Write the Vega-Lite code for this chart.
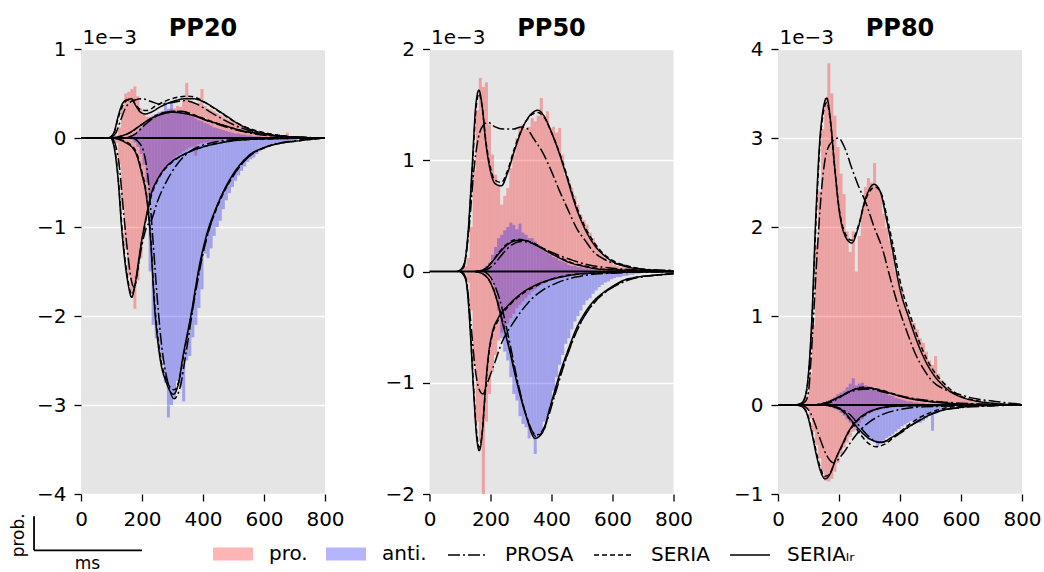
{
"$schema": "https://vega.github.io/schema/vega-lite/v6.json",
"background": "white",
"padding": {"left": 10, "top": 16, "right": 5, "bottom": 0},
"spacing": 104.5,
"bounds": "flush",
"datasets": {
"hist": [
{"p":"PP20","r":"pro.","x":110,"y":0.03},{"p":"PP20","r":"pro.","x":120,"y":0.12},{"p":"PP20","r":"pro.","x":130,"y":0.35},{"p":"PP20","r":"pro.","x":140,"y":0.5},{"p":"PP20","r":"pro.","x":150,"y":0.52},{"p":"PP20","r":"pro.","x":160,"y":0.55},{"p":"PP20","r":"pro.","x":170,"y":0.58},{"p":"PP20","r":"pro.","x":180,"y":0.47},{"p":"PP20","r":"pro.","x":190,"y":0.33},{"p":"PP20","r":"pro.","x":200,"y":0.27},{"p":"PP20","r":"pro.","x":210,"y":0.24},{"p":"PP20","r":"pro.","x":220,"y":0.24},{"p":"PP20","r":"pro.","x":230,"y":0.25},{"p":"PP20","r":"pro.","x":240,"y":0.27},{"p":"PP20","r":"pro.","x":250,"y":0.28},{"p":"PP20","r":"pro.","x":260,"y":0.3},{"p":"PP20","r":"pro.","x":270,"y":0.3},{"p":"PP20","r":"pro.","x":280,"y":0.31},{"p":"PP20","r":"pro.","x":290,"y":0.33},{"p":"PP20","r":"pro.","x":300,"y":0.33},{"p":"PP20","r":"pro.","x":310,"y":0.36},{"p":"PP20","r":"pro.","x":320,"y":0.35},{"p":"PP20","r":"pro.","x":330,"y":0.42},{"p":"PP20","r":"pro.","x":340,"y":0.62},{"p":"PP20","r":"pro.","x":350,"y":0.42},{"p":"PP20","r":"pro.","x":360,"y":0.4},{"p":"PP20","r":"pro.","x":370,"y":0.38},{"p":"PP20","r":"pro.","x":380,"y":0.4},{"p":"PP20","r":"pro.","x":390,"y":0.55},{"p":"PP20","r":"pro.","x":400,"y":0.36},{"p":"PP20","r":"pro.","x":410,"y":0.33},{"p":"PP20","r":"pro.","x":420,"y":0.32},{"p":"PP20","r":"pro.","x":430,"y":0.3},{"p":"PP20","r":"pro.","x":440,"y":0.28},{"p":"PP20","r":"pro.","x":450,"y":0.26},{"p":"PP20","r":"pro.","x":460,"y":0.24},{"p":"PP20","r":"pro.","x":470,"y":0.22},{"p":"PP20","r":"pro.","x":480,"y":0.2},{"p":"PP20","r":"pro.","x":490,"y":0.19},{"p":"PP20","r":"pro.","x":500,"y":0.17},{"p":"PP20","r":"pro.","x":510,"y":0.15},{"p":"PP20","r":"pro.","x":520,"y":0.13},{"p":"PP20","r":"pro.","x":530,"y":0.12},{"p":"PP20","r":"pro.","x":540,"y":0.11},{"p":"PP20","r":"pro.","x":550,"y":0.1},{"p":"PP20","r":"pro.","x":560,"y":0.09},{"p":"PP20","r":"pro.","x":570,"y":0.08},{"p":"PP20","r":"pro.","x":580,"y":0.07},{"p":"PP20","r":"pro.","x":590,"y":0.06},{"p":"PP20","r":"pro.","x":600,"y":0.05},{"p":"PP20","r":"pro.","x":610,"y":0.05},{"p":"PP20","r":"pro.","x":620,"y":0.04},{"p":"PP20","r":"pro.","x":630,"y":0.03},{"p":"PP20","r":"pro.","x":640,"y":0.03},{"p":"PP20","r":"pro.","x":650,"y":0.02},{"p":"PP20","r":"pro.","x":660,"y":0.03},{"p":"PP20","r":"pro.","x":670,"y":0.06},{"p":"PP20","r":"pro.","x":680,"y":0.02},{"p":"PP20","r":"pro.","x":690,"y":0.01},{"p":"PP20","r":"pro.","x":700,"y":0.01},
{"p":"PP20","r":"pro.","x":100,"y":-0.01},{"p":"PP20","r":"pro.","x":110,"y":-0.06},{"p":"PP20","r":"pro.","x":120,"y":-0.3},{"p":"PP20","r":"pro.","x":130,"y":-0.8},{"p":"PP20","r":"pro.","x":140,"y":-1.25},{"p":"PP20","r":"pro.","x":150,"y":-1.55},{"p":"PP20","r":"pro.","x":160,"y":-1.75},{"p":"PP20","r":"pro.","x":170,"y":-1.92},{"p":"PP20","r":"pro.","x":180,"y":-1.6},{"p":"PP20","r":"pro.","x":190,"y":-1.35},{"p":"PP20","r":"pro.","x":200,"y":-1.1},{"p":"PP20","r":"pro.","x":210,"y":-0.9},{"p":"PP20","r":"pro.","x":220,"y":-0.68},{"p":"PP20","r":"pro.","x":230,"y":-0.6},{"p":"PP20","r":"pro.","x":240,"y":-0.52},{"p":"PP20","r":"pro.","x":250,"y":-0.45},{"p":"PP20","r":"pro.","x":260,"y":-0.38},{"p":"PP20","r":"pro.","x":270,"y":-0.34},{"p":"PP20","r":"pro.","x":280,"y":-0.3},{"p":"PP20","r":"pro.","x":290,"y":-0.26},{"p":"PP20","r":"pro.","x":300,"y":-0.24},{"p":"PP20","r":"pro.","x":310,"y":-0.2},{"p":"PP20","r":"pro.","x":320,"y":-0.18},{"p":"PP20","r":"pro.","x":330,"y":-0.15},{"p":"PP20","r":"pro.","x":340,"y":-0.13},{"p":"PP20","r":"pro.","x":350,"y":-0.11},{"p":"PP20","r":"pro.","x":360,"y":-0.1},{"p":"PP20","r":"pro.","x":370,"y":-0.2},{"p":"PP20","r":"pro.","x":380,"y":-0.07},{"p":"PP20","r":"pro.","x":390,"y":-0.06},{"p":"PP20","r":"pro.","x":400,"y":-0.05},{"p":"PP20","r":"pro.","x":410,"y":-0.05},{"p":"PP20","r":"pro.","x":420,"y":-0.04},{"p":"PP20","r":"pro.","x":430,"y":-0.04},{"p":"PP20","r":"pro.","x":440,"y":-0.03},{"p":"PP20","r":"pro.","x":450,"y":-0.03},{"p":"PP20","r":"pro.","x":460,"y":-0.02},{"p":"PP20","r":"pro.","x":470,"y":-0.02},{"p":"PP20","r":"pro.","x":480,"y":-0.02},{"p":"PP20","r":"pro.","x":490,"y":-0.01},{"p":"PP20","r":"pro.","x":500,"y":-0.01},
{"p":"PP50","r":"pro.","x":100,"y":0.02},{"p":"PP50","r":"pro.","x":110,"y":0.05},{"p":"PP50","r":"pro.","x":120,"y":0.12},{"p":"PP50","r":"pro.","x":130,"y":0.4},{"p":"PP50","r":"pro.","x":140,"y":0.9},{"p":"PP50","r":"pro.","x":150,"y":1.45},{"p":"PP50","r":"pro.","x":160,"y":1.74},{"p":"PP50","r":"pro.","x":170,"y":1.66},{"p":"PP50","r":"pro.","x":180,"y":1.7},{"p":"PP50","r":"pro.","x":190,"y":1.32},{"p":"PP50","r":"pro.","x":200,"y":1.05},{"p":"PP50","r":"pro.","x":210,"y":0.87},{"p":"PP50","r":"pro.","x":220,"y":0.78},{"p":"PP50","r":"pro.","x":230,"y":0.6},{"p":"PP50","r":"pro.","x":240,"y":0.68},{"p":"PP50","r":"pro.","x":250,"y":0.75},{"p":"PP50","r":"pro.","x":260,"y":0.93},{"p":"PP50","r":"pro.","x":270,"y":1.05},{"p":"PP50","r":"pro.","x":280,"y":1.2},{"p":"PP50","r":"pro.","x":290,"y":1.29},{"p":"PP50","r":"pro.","x":300,"y":1.32},{"p":"PP50","r":"pro.","x":310,"y":1.28},{"p":"PP50","r":"pro.","x":320,"y":1.3},{"p":"PP50","r":"pro.","x":330,"y":1.38},{"p":"PP50","r":"pro.","x":340,"y":1.35},{"p":"PP50","r":"pro.","x":350,"y":1.4},{"p":"PP50","r":"pro.","x":360,"y":1.56},{"p":"PP50","r":"pro.","x":370,"y":1.38},{"p":"PP50","r":"pro.","x":380,"y":1.44},{"p":"PP50","r":"pro.","x":390,"y":1.29},{"p":"PP50","r":"pro.","x":400,"y":1.3},{"p":"PP50","r":"pro.","x":410,"y":1.25},{"p":"PP50","r":"pro.","x":420,"y":1.29},{"p":"PP50","r":"pro.","x":430,"y":1.05},{"p":"PP50","r":"pro.","x":440,"y":0.87},{"p":"PP50","r":"pro.","x":450,"y":0.82},{"p":"PP50","r":"pro.","x":460,"y":0.75},{"p":"PP50","r":"pro.","x":470,"y":0.68},{"p":"PP50","r":"pro.","x":480,"y":0.6},{"p":"PP50","r":"pro.","x":490,"y":0.51},{"p":"PP50","r":"pro.","x":500,"y":0.46},{"p":"PP50","r":"pro.","x":510,"y":0.42},{"p":"PP50","r":"pro.","x":520,"y":0.35},{"p":"PP50","r":"pro.","x":530,"y":0.3},{"p":"PP50","r":"pro.","x":540,"y":0.24},{"p":"PP50","r":"pro.","x":550,"y":0.2},{"p":"PP50","r":"pro.","x":560,"y":0.15},{"p":"PP50","r":"pro.","x":570,"y":0.12},{"p":"PP50","r":"pro.","x":580,"y":0.1},{"p":"PP50","r":"pro.","x":590,"y":0.08},{"p":"PP50","r":"pro.","x":600,"y":0.06},{"p":"PP50","r":"pro.","x":610,"y":0.05},{"p":"PP50","r":"pro.","x":620,"y":0.04},{"p":"PP50","r":"pro.","x":630,"y":0.04},{"p":"PP50","r":"pro.","x":640,"y":0.03},{"p":"PP50","r":"pro.","x":650,"y":0.03},{"p":"PP50","r":"pro.","x":660,"y":0.02},{"p":"PP50","r":"pro.","x":670,"y":0.02},{"p":"PP50","r":"pro.","x":680,"y":0.02},{"p":"PP50","r":"pro.","x":690,"y":0.01},{"p":"PP50","r":"pro.","x":700,"y":0.01},
{"p":"PP50","r":"pro.","x":110,"y":-0.02},{"p":"PP50","r":"pro.","x":120,"y":-0.1},{"p":"PP50","r":"pro.","x":130,"y":-0.35},{"p":"PP50","r":"pro.","x":140,"y":-0.85},{"p":"PP50","r":"pro.","x":150,"y":-1.35},{"p":"PP50","r":"pro.","x":160,"y":-1.52},{"p":"PP50","r":"pro.","x":170,"y":-2.0},{"p":"PP50","r":"pro.","x":180,"y":-1.35},{"p":"PP50","r":"pro.","x":190,"y":-1.1},{"p":"PP50","r":"pro.","x":200,"y":-0.9},{"p":"PP50","r":"pro.","x":210,"y":-0.75},{"p":"PP50","r":"pro.","x":220,"y":-0.62},{"p":"PP50","r":"pro.","x":230,"y":-0.55},{"p":"PP50","r":"pro.","x":240,"y":-0.5},{"p":"PP50","r":"pro.","x":250,"y":-0.47},{"p":"PP50","r":"pro.","x":260,"y":-0.42},{"p":"PP50","r":"pro.","x":270,"y":-0.38},{"p":"PP50","r":"pro.","x":280,"y":-0.33},{"p":"PP50","r":"pro.","x":290,"y":-0.3},{"p":"PP50","r":"pro.","x":300,"y":-0.27},{"p":"PP50","r":"pro.","x":310,"y":-0.24},{"p":"PP50","r":"pro.","x":320,"y":-0.21},{"p":"PP50","r":"pro.","x":330,"y":-0.18},{"p":"PP50","r":"pro.","x":340,"y":-0.16},{"p":"PP50","r":"pro.","x":350,"y":-0.14},{"p":"PP50","r":"pro.","x":360,"y":-0.12},{"p":"PP50","r":"pro.","x":370,"y":-0.1},{"p":"PP50","r":"pro.","x":380,"y":-0.09},{"p":"PP50","r":"pro.","x":390,"y":-0.08},{"p":"PP50","r":"pro.","x":400,"y":-0.07},{"p":"PP50","r":"pro.","x":410,"y":-0.06},{"p":"PP50","r":"pro.","x":420,"y":-0.05},{"p":"PP50","r":"pro.","x":430,"y":-0.05},{"p":"PP50","r":"pro.","x":440,"y":-0.04},{"p":"PP50","r":"pro.","x":450,"y":-0.04},{"p":"PP50","r":"pro.","x":460,"y":-0.03},{"p":"PP50","r":"pro.","x":470,"y":-0.03},{"p":"PP50","r":"pro.","x":480,"y":-0.02},{"p":"PP50","r":"pro.","x":490,"y":-0.02},{"p":"PP50","r":"pro.","x":500,"y":-0.02},{"p":"PP50","r":"pro.","x":510,"y":-0.01},{"p":"PP50","r":"pro.","x":520,"y":-0.01},
{"p":"PP80","r":"pro.","x":70,"y":0.01},{"p":"PP80","r":"pro.","x":80,"y":0.04},{"p":"PP80","r":"pro.","x":90,"y":0.1},{"p":"PP80","r":"pro.","x":100,"y":0.35},{"p":"PP80","r":"pro.","x":110,"y":0.9},{"p":"PP80","r":"pro.","x":120,"y":1.8},{"p":"PP80","r":"pro.","x":130,"y":2.4},{"p":"PP80","r":"pro.","x":140,"y":3.1},{"p":"PP80","r":"pro.","x":150,"y":3.45},{"p":"PP80","r":"pro.","x":160,"y":3.84},{"p":"PP80","r":"pro.","x":170,"y":3.5},{"p":"PP80","r":"pro.","x":180,"y":3.25},{"p":"PP80","r":"pro.","x":190,"y":2.9},{"p":"PP80","r":"pro.","x":200,"y":2.6},{"p":"PP80","r":"pro.","x":210,"y":2.37},{"p":"PP80","r":"pro.","x":220,"y":1.95},{"p":"PP80","r":"pro.","x":230,"y":1.72},{"p":"PP80","r":"pro.","x":240,"y":1.95},{"p":"PP80","r":"pro.","x":250,"y":1.5},{"p":"PP80","r":"pro.","x":260,"y":1.9},{"p":"PP80","r":"pro.","x":270,"y":2.2},{"p":"PP80","r":"pro.","x":280,"y":2.45},{"p":"PP80","r":"pro.","x":290,"y":2.55},{"p":"PP80","r":"pro.","x":300,"y":2.5},{"p":"PP80","r":"pro.","x":310,"y":2.72},{"p":"PP80","r":"pro.","x":320,"y":2.45},{"p":"PP80","r":"pro.","x":330,"y":2.4},{"p":"PP80","r":"pro.","x":340,"y":2.15},{"p":"PP80","r":"pro.","x":350,"y":2.0},{"p":"PP80","r":"pro.","x":360,"y":1.85},{"p":"PP80","r":"pro.","x":370,"y":1.7},{"p":"PP80","r":"pro.","x":380,"y":1.5},{"p":"PP80","r":"pro.","x":390,"y":1.42},{"p":"PP80","r":"pro.","x":400,"y":1.3},{"p":"PP80","r":"pro.","x":410,"y":1.15},{"p":"PP80","r":"pro.","x":420,"y":1.05},{"p":"PP80","r":"pro.","x":430,"y":0.98},{"p":"PP80","r":"pro.","x":440,"y":0.92},{"p":"PP80","r":"pro.","x":450,"y":0.85},{"p":"PP80","r":"pro.","x":460,"y":0.75},{"p":"PP80","r":"pro.","x":470,"y":0.7},{"p":"PP80","r":"pro.","x":480,"y":0.6},{"p":"PP80","r":"pro.","x":490,"y":0.5},{"p":"PP80","r":"pro.","x":500,"y":0.45},{"p":"PP80","r":"pro.","x":510,"y":0.55},{"p":"PP80","r":"pro.","x":520,"y":0.35},{"p":"PP80","r":"pro.","x":530,"y":0.28},{"p":"PP80","r":"pro.","x":540,"y":0.24},{"p":"PP80","r":"pro.","x":550,"y":0.2},{"p":"PP80","r":"pro.","x":560,"y":0.17},{"p":"PP80","r":"pro.","x":570,"y":0.14},{"p":"PP80","r":"pro.","x":580,"y":0.12},{"p":"PP80","r":"pro.","x":590,"y":0.1},{"p":"PP80","r":"pro.","x":600,"y":0.08},{"p":"PP80","r":"pro.","x":610,"y":0.07},{"p":"PP80","r":"pro.","x":620,"y":0.06},{"p":"PP80","r":"pro.","x":630,"y":0.05},{"p":"PP80","r":"pro.","x":640,"y":0.04},{"p":"PP80","r":"pro.","x":650,"y":0.04},{"p":"PP80","r":"pro.","x":660,"y":0.03},{"p":"PP80","r":"pro.","x":670,"y":0.03},{"p":"PP80","r":"pro.","x":680,"y":0.02},{"p":"PP80","r":"pro.","x":690,"y":0.02},{"p":"PP80","r":"pro.","x":700,"y":0.01},
{"p":"PP80","r":"pro.","x":80,"y":-0.02},{"p":"PP80","r":"pro.","x":90,"y":-0.05},{"p":"PP80","r":"pro.","x":100,"y":-0.15},{"p":"PP80","r":"pro.","x":110,"y":-0.3},{"p":"PP80","r":"pro.","x":120,"y":-0.45},{"p":"PP80","r":"pro.","x":130,"y":-0.6},{"p":"PP80","r":"pro.","x":140,"y":-0.75},{"p":"PP80","r":"pro.","x":150,"y":-0.85},{"p":"PP80","r":"pro.","x":160,"y":-0.86},{"p":"PP80","r":"pro.","x":170,"y":-0.83},{"p":"PP80","r":"pro.","x":180,"y":-0.75},{"p":"PP80","r":"pro.","x":190,"y":-0.65},{"p":"PP80","r":"pro.","x":200,"y":-0.55},{"p":"PP80","r":"pro.","x":210,"y":-0.48},{"p":"PP80","r":"pro.","x":220,"y":-0.42},{"p":"PP80","r":"pro.","x":230,"y":-0.36},{"p":"PP80","r":"pro.","x":240,"y":-0.3},{"p":"PP80","r":"pro.","x":250,"y":-0.25},{"p":"PP80","r":"pro.","x":260,"y":-0.2},{"p":"PP80","r":"pro.","x":270,"y":-0.16},{"p":"PP80","r":"pro.","x":280,"y":-0.13},{"p":"PP80","r":"pro.","x":290,"y":-0.1},{"p":"PP80","r":"pro.","x":300,"y":-0.08},{"p":"PP80","r":"pro.","x":310,"y":-0.07},{"p":"PP80","r":"pro.","x":320,"y":-0.06},{"p":"PP80","r":"pro.","x":330,"y":-0.05},{"p":"PP80","r":"pro.","x":340,"y":-0.04},{"p":"PP80","r":"pro.","x":350,"y":-0.04},{"p":"PP80","r":"pro.","x":360,"y":-0.03},{"p":"PP80","r":"pro.","x":370,"y":-0.03},{"p":"PP80","r":"pro.","x":380,"y":-0.02},{"p":"PP80","r":"pro.","x":390,"y":-0.02},{"p":"PP80","r":"pro.","x":400,"y":-0.02},{"p":"PP80","r":"pro.","x":410,"y":-0.01},{"p":"PP80","r":"pro.","x":420,"y":-0.01},
{"p":"PP20","r":"anti.","x":150,"y":0.01},{"p":"PP20","r":"anti.","x":160,"y":0.03},{"p":"PP20","r":"anti.","x":170,"y":0.05},{"p":"PP20","r":"anti.","x":180,"y":0.08},{"p":"PP20","r":"anti.","x":190,"y":0.12},{"p":"PP20","r":"anti.","x":200,"y":0.16},{"p":"PP20","r":"anti.","x":210,"y":0.2},{"p":"PP20","r":"anti.","x":220,"y":0.22},{"p":"PP20","r":"anti.","x":230,"y":0.25},{"p":"PP20","r":"anti.","x":240,"y":0.27},{"p":"PP20","r":"anti.","x":250,"y":0.29},{"p":"PP20","r":"anti.","x":260,"y":0.3},{"p":"PP20","r":"anti.","x":270,"y":0.41},{"p":"PP20","r":"anti.","x":280,"y":0.33},{"p":"PP20","r":"anti.","x":290,"y":0.4},{"p":"PP20","r":"anti.","x":300,"y":0.3},{"p":"PP20","r":"anti.","x":310,"y":0.31},{"p":"PP20","r":"anti.","x":320,"y":0.28},{"p":"PP20","r":"anti.","x":330,"y":0.3},{"p":"PP20","r":"anti.","x":340,"y":0.27},{"p":"PP20","r":"anti.","x":350,"y":0.25},{"p":"PP20","r":"anti.","x":360,"y":0.24},{"p":"PP20","r":"anti.","x":370,"y":0.22},{"p":"PP20","r":"anti.","x":380,"y":0.2},{"p":"PP20","r":"anti.","x":390,"y":0.19},{"p":"PP20","r":"anti.","x":400,"y":0.17},{"p":"PP20","r":"anti.","x":410,"y":0.16},{"p":"PP20","r":"anti.","x":420,"y":0.14},{"p":"PP20","r":"anti.","x":430,"y":0.12},{"p":"PP20","r":"anti.","x":440,"y":0.11},{"p":"PP20","r":"anti.","x":450,"y":0.1},{"p":"PP20","r":"anti.","x":460,"y":0.09},{"p":"PP20","r":"anti.","x":470,"y":0.08},{"p":"PP20","r":"anti.","x":480,"y":0.07},{"p":"PP20","r":"anti.","x":490,"y":0.06},{"p":"PP20","r":"anti.","x":500,"y":0.05},{"p":"PP20","r":"anti.","x":510,"y":0.05},{"p":"PP20","r":"anti.","x":520,"y":0.04},{"p":"PP20","r":"anti.","x":530,"y":0.04},{"p":"PP20","r":"anti.","x":540,"y":0.03},{"p":"PP20","r":"anti.","x":550,"y":0.03},{"p":"PP20","r":"anti.","x":560,"y":0.02},{"p":"PP20","r":"anti.","x":570,"y":0.02},{"p":"PP20","r":"anti.","x":580,"y":0.02},{"p":"PP20","r":"anti.","x":590,"y":0.01},{"p":"PP20","r":"anti.","x":600,"y":0.01},{"p":"PP20","r":"anti.","x":610,"y":0.01},{"p":"PP20","r":"anti.","x":620,"y":0.01},
{"p":"PP20","r":"anti.","x":160,"y":-0.02},{"p":"PP20","r":"anti.","x":170,"y":-0.05},{"p":"PP20","r":"anti.","x":180,"y":-0.1},{"p":"PP20","r":"anti.","x":190,"y":-0.18},{"p":"PP20","r":"anti.","x":200,"y":-0.3},{"p":"PP20","r":"anti.","x":210,"y":-0.5},{"p":"PP20","r":"anti.","x":220,"y":-1.5},{"p":"PP20","r":"anti.","x":230,"y":-2.1},{"p":"PP20","r":"anti.","x":240,"y":-2.25},{"p":"PP20","r":"anti.","x":250,"y":-2.4},{"p":"PP20","r":"anti.","x":260,"y":-2.5},{"p":"PP20","r":"anti.","x":270,"y":-2.75},{"p":"PP20","r":"anti.","x":280,"y":-3.14},{"p":"PP20","r":"anti.","x":290,"y":-3.0},{"p":"PP20","r":"anti.","x":300,"y":-2.93},{"p":"PP20","r":"anti.","x":310,"y":-2.73},{"p":"PP20","r":"anti.","x":320,"y":-2.8},{"p":"PP20","r":"anti.","x":330,"y":-2.96},{"p":"PP20","r":"anti.","x":340,"y":-2.5},{"p":"PP20","r":"anti.","x":350,"y":-2.45},{"p":"PP20","r":"anti.","x":360,"y":-2.24},{"p":"PP20","r":"anti.","x":370,"y":-2.1},{"p":"PP20","r":"anti.","x":380,"y":-1.91},{"p":"PP20","r":"anti.","x":390,"y":-1.7},{"p":"PP20","r":"anti.","x":400,"y":-1.3},{"p":"PP20","r":"anti.","x":410,"y":-1.35},{"p":"PP20","r":"anti.","x":420,"y":-1.24},{"p":"PP20","r":"anti.","x":430,"y":-1.1},{"p":"PP20","r":"anti.","x":440,"y":-1.0},{"p":"PP20","r":"anti.","x":450,"y":-0.93},{"p":"PP20","r":"anti.","x":460,"y":-0.8},{"p":"PP20","r":"anti.","x":470,"y":-0.7},{"p":"PP20","r":"anti.","x":480,"y":-0.62},{"p":"PP20","r":"anti.","x":490,"y":-0.55},{"p":"PP20","r":"anti.","x":500,"y":-0.48},{"p":"PP20","r":"anti.","x":510,"y":-0.42},{"p":"PP20","r":"anti.","x":520,"y":-0.37},{"p":"PP20","r":"anti.","x":530,"y":-0.32},{"p":"PP20","r":"anti.","x":540,"y":-0.27},{"p":"PP20","r":"anti.","x":550,"y":-0.24},{"p":"PP20","r":"anti.","x":560,"y":-0.22},{"p":"PP20","r":"anti.","x":570,"y":-0.18},{"p":"PP20","r":"anti.","x":580,"y":-0.15},{"p":"PP20","r":"anti.","x":590,"y":-0.13},{"p":"PP20","r":"anti.","x":600,"y":-0.11},{"p":"PP20","r":"anti.","x":610,"y":-0.1},{"p":"PP20","r":"anti.","x":620,"y":-0.08},{"p":"PP20","r":"anti.","x":630,"y":-0.07},{"p":"PP20","r":"anti.","x":640,"y":-0.06},{"p":"PP20","r":"anti.","x":650,"y":-0.05},{"p":"PP20","r":"anti.","x":660,"y":-0.05},{"p":"PP20","r":"anti.","x":670,"y":-0.04},{"p":"PP20","r":"anti.","x":680,"y":-0.03},{"p":"PP20","r":"anti.","x":690,"y":-0.03},{"p":"PP20","r":"anti.","x":700,"y":-0.02},{"p":"PP20","r":"anti.","x":710,"y":-0.01},{"p":"PP20","r":"anti.","x":720,"y":-0.01},
{"p":"PP50","r":"anti.","x":170,"y":0.02},{"p":"PP50","r":"anti.","x":180,"y":0.05},{"p":"PP50","r":"anti.","x":190,"y":0.08},{"p":"PP50","r":"anti.","x":200,"y":0.15},{"p":"PP50","r":"anti.","x":210,"y":0.22},{"p":"PP50","r":"anti.","x":220,"y":0.3},{"p":"PP50","r":"anti.","x":230,"y":0.33},{"p":"PP50","r":"anti.","x":240,"y":0.37},{"p":"PP50","r":"anti.","x":250,"y":0.4},{"p":"PP50","r":"anti.","x":260,"y":0.44},{"p":"PP50","r":"anti.","x":270,"y":0.42},{"p":"PP50","r":"anti.","x":280,"y":0.38},{"p":"PP50","r":"anti.","x":290,"y":0.43},{"p":"PP50","r":"anti.","x":300,"y":0.35},{"p":"PP50","r":"anti.","x":310,"y":0.33},{"p":"PP50","r":"anti.","x":320,"y":0.3},{"p":"PP50","r":"anti.","x":330,"y":0.3},{"p":"PP50","r":"anti.","x":340,"y":0.27},{"p":"PP50","r":"anti.","x":350,"y":0.24},{"p":"PP50","r":"anti.","x":360,"y":0.22},{"p":"PP50","r":"anti.","x":370,"y":0.2},{"p":"PP50","r":"anti.","x":380,"y":0.17},{"p":"PP50","r":"anti.","x":390,"y":0.15},{"p":"PP50","r":"anti.","x":400,"y":0.13},{"p":"PP50","r":"anti.","x":410,"y":0.12},{"p":"PP50","r":"anti.","x":420,"y":0.1},{"p":"PP50","r":"anti.","x":430,"y":0.09},{"p":"PP50","r":"anti.","x":440,"y":0.08},{"p":"PP50","r":"anti.","x":450,"y":0.06},{"p":"PP50","r":"anti.","x":460,"y":0.05},{"p":"PP50","r":"anti.","x":470,"y":0.05},{"p":"PP50","r":"anti.","x":480,"y":0.04},{"p":"PP50","r":"anti.","x":490,"y":0.04},{"p":"PP50","r":"anti.","x":500,"y":0.03},{"p":"PP50","r":"anti.","x":510,"y":0.03},{"p":"PP50","r":"anti.","x":520,"y":0.02},{"p":"PP50","r":"anti.","x":530,"y":0.02},{"p":"PP50","r":"anti.","x":540,"y":0.01},{"p":"PP50","r":"anti.","x":550,"y":0.01},
{"p":"PP50","r":"anti.","x":190,"y":-0.03},{"p":"PP50","r":"anti.","x":200,"y":-0.1},{"p":"PP50","r":"anti.","x":210,"y":-0.2},{"p":"PP50","r":"anti.","x":220,"y":-0.35},{"p":"PP50","r":"anti.","x":230,"y":-0.6},{"p":"PP50","r":"anti.","x":240,"y":-0.72},{"p":"PP50","r":"anti.","x":250,"y":-0.8},{"p":"PP50","r":"anti.","x":260,"y":-0.95},{"p":"PP50","r":"anti.","x":270,"y":-1.1},{"p":"PP50","r":"anti.","x":280,"y":-1.16},{"p":"PP50","r":"anti.","x":290,"y":-1.3},{"p":"PP50","r":"anti.","x":300,"y":-1.37},{"p":"PP50","r":"anti.","x":310,"y":-1.4},{"p":"PP50","r":"anti.","x":320,"y":-1.5},{"p":"PP50","r":"anti.","x":330,"y":-1.45},{"p":"PP50","r":"anti.","x":340,"y":-1.64},{"p":"PP50","r":"anti.","x":350,"y":-1.49},{"p":"PP50","r":"anti.","x":360,"y":-1.45},{"p":"PP50","r":"anti.","x":370,"y":-1.35},{"p":"PP50","r":"anti.","x":380,"y":-1.31},{"p":"PP50","r":"anti.","x":390,"y":-1.2},{"p":"PP50","r":"anti.","x":400,"y":-1.07},{"p":"PP50","r":"anti.","x":410,"y":-0.95},{"p":"PP50","r":"anti.","x":420,"y":-0.84},{"p":"PP50","r":"anti.","x":430,"y":-0.75},{"p":"PP50","r":"anti.","x":440,"y":-0.65},{"p":"PP50","r":"anti.","x":450,"y":-0.6},{"p":"PP50","r":"anti.","x":460,"y":-0.52},{"p":"PP50","r":"anti.","x":470,"y":-0.45},{"p":"PP50","r":"anti.","x":480,"y":-0.4},{"p":"PP50","r":"anti.","x":490,"y":-0.35},{"p":"PP50","r":"anti.","x":500,"y":-0.3},{"p":"PP50","r":"anti.","x":510,"y":-0.26},{"p":"PP50","r":"anti.","x":520,"y":-0.24},{"p":"PP50","r":"anti.","x":530,"y":-0.2},{"p":"PP50","r":"anti.","x":540,"y":-0.17},{"p":"PP50","r":"anti.","x":550,"y":-0.14},{"p":"PP50","r":"anti.","x":560,"y":-0.12},{"p":"PP50","r":"anti.","x":570,"y":-0.1},{"p":"PP50","r":"anti.","x":580,"y":-0.09},{"p":"PP50","r":"anti.","x":590,"y":-0.07},{"p":"PP50","r":"anti.","x":600,"y":-0.06},{"p":"PP50","r":"anti.","x":610,"y":-0.05},{"p":"PP50","r":"anti.","x":620,"y":-0.05},{"p":"PP50","r":"anti.","x":630,"y":-0.04},{"p":"PP50","r":"anti.","x":640,"y":-0.04},{"p":"PP50","r":"anti.","x":650,"y":-0.03},{"p":"PP50","r":"anti.","x":660,"y":-0.03},{"p":"PP50","r":"anti.","x":670,"y":-0.02},{"p":"PP50","r":"anti.","x":680,"y":-0.02},{"p":"PP50","r":"anti.","x":690,"y":-0.01},{"p":"PP50","r":"anti.","x":700,"y":-0.01},
{"p":"PP80","r":"anti.","x":130,"y":0.01},{"p":"PP80","r":"anti.","x":140,"y":0.02},{"p":"PP80","r":"anti.","x":150,"y":0.03},{"p":"PP80","r":"anti.","x":160,"y":0.05},{"p":"PP80","r":"anti.","x":170,"y":0.07},{"p":"PP80","r":"anti.","x":180,"y":0.09},{"p":"PP80","r":"anti.","x":190,"y":0.12},{"p":"PP80","r":"anti.","x":200,"y":0.14},{"p":"PP80","r":"anti.","x":210,"y":0.16},{"p":"PP80","r":"anti.","x":220,"y":0.2},{"p":"PP80","r":"anti.","x":230,"y":0.24},{"p":"PP80","r":"anti.","x":240,"y":0.3},{"p":"PP80","r":"anti.","x":250,"y":0.22},{"p":"PP80","r":"anti.","x":260,"y":0.24},{"p":"PP80","r":"anti.","x":270,"y":0.25},{"p":"PP80","r":"anti.","x":280,"y":0.22},{"p":"PP80","r":"anti.","x":290,"y":0.21},{"p":"PP80","r":"anti.","x":300,"y":0.2},{"p":"PP80","r":"anti.","x":310,"y":0.18},{"p":"PP80","r":"anti.","x":320,"y":0.17},{"p":"PP80","r":"anti.","x":330,"y":0.15},{"p":"PP80","r":"anti.","x":340,"y":0.13},{"p":"PP80","r":"anti.","x":350,"y":0.12},{"p":"PP80","r":"anti.","x":360,"y":0.11},{"p":"PP80","r":"anti.","x":370,"y":0.1},{"p":"PP80","r":"anti.","x":380,"y":0.08},{"p":"PP80","r":"anti.","x":390,"y":0.07},{"p":"PP80","r":"anti.","x":400,"y":0.06},{"p":"PP80","r":"anti.","x":410,"y":0.05},{"p":"PP80","r":"anti.","x":420,"y":0.04},{"p":"PP80","r":"anti.","x":430,"y":0.04},{"p":"PP80","r":"anti.","x":440,"y":0.03},{"p":"PP80","r":"anti.","x":450,"y":0.03},{"p":"PP80","r":"anti.","x":460,"y":0.02},{"p":"PP80","r":"anti.","x":470,"y":0.02},{"p":"PP80","r":"anti.","x":480,"y":0.01},
{"p":"PP80","r":"anti.","x":170,"y":-0.02},{"p":"PP80","r":"anti.","x":180,"y":-0.04},{"p":"PP80","r":"anti.","x":190,"y":-0.06},{"p":"PP80","r":"anti.","x":200,"y":-0.09},{"p":"PP80","r":"anti.","x":210,"y":-0.12},{"p":"PP80","r":"anti.","x":220,"y":-0.16},{"p":"PP80","r":"anti.","x":230,"y":-0.2},{"p":"PP80","r":"anti.","x":240,"y":-0.24},{"p":"PP80","r":"anti.","x":250,"y":-0.28},{"p":"PP80","r":"anti.","x":260,"y":-0.3},{"p":"PP80","r":"anti.","x":270,"y":-0.33},{"p":"PP80","r":"anti.","x":280,"y":-0.35},{"p":"PP80","r":"anti.","x":290,"y":-0.39},{"p":"PP80","r":"anti.","x":300,"y":-0.4},{"p":"PP80","r":"anti.","x":310,"y":-0.42},{"p":"PP80","r":"anti.","x":320,"y":-0.47},{"p":"PP80","r":"anti.","x":330,"y":-0.44},{"p":"PP80","r":"anti.","x":340,"y":-0.4},{"p":"PP80","r":"anti.","x":350,"y":-0.37},{"p":"PP80","r":"anti.","x":360,"y":-0.35},{"p":"PP80","r":"anti.","x":370,"y":-0.33},{"p":"PP80","r":"anti.","x":380,"y":-0.3},{"p":"PP80","r":"anti.","x":390,"y":-0.27},{"p":"PP80","r":"anti.","x":400,"y":-0.24},{"p":"PP80","r":"anti.","x":410,"y":-0.22},{"p":"PP80","r":"anti.","x":420,"y":-0.2},{"p":"PP80","r":"anti.","x":430,"y":-0.18},{"p":"PP80","r":"anti.","x":440,"y":-0.17},{"p":"PP80","r":"anti.","x":450,"y":-0.2},{"p":"PP80","r":"anti.","x":460,"y":-0.2},{"p":"PP80","r":"anti.","x":470,"y":-0.18},{"p":"PP80","r":"anti.","x":480,"y":-0.15},{"p":"PP80","r":"anti.","x":490,"y":-0.12},{"p":"PP80","r":"anti.","x":500,"y":-0.29},{"p":"PP80","r":"anti.","x":510,"y":-0.1},{"p":"PP80","r":"anti.","x":520,"y":-0.07},{"p":"PP80","r":"anti.","x":530,"y":-0.06},{"p":"PP80","r":"anti.","x":540,"y":-0.04},{"p":"PP80","r":"anti.","x":550,"y":-0.03},{"p":"PP80","r":"anti.","x":560,"y":-0.02},{"p":"PP80","r":"anti.","x":570,"y":-0.02},{"p":"PP80","r":"anti.","x":580,"y":-0.01}
],
"curves": [
{"p":"PP20","m":"SERIA_lr","c":"pu","x":90,"y":0},{"p":"PP20","m":"SERIA_lr","c":"pu","x":100,"y":0.02},{"p":"PP20","m":"SERIA_lr","c":"pu","x":110,"y":0.08},{"p":"PP20","m":"SERIA_lr","c":"pu","x":120,"y":0.22},{"p":"PP20","m":"SERIA_lr","c":"pu","x":135,"y":0.38},{"p":"PP20","m":"SERIA_lr","c":"pu","x":150,"y":0.43},{"p":"PP20","m":"SERIA_lr","c":"pu","x":166,"y":0.44},{"p":"PP20","m":"SERIA_lr","c":"pu","x":180,"y":0.36},{"p":"PP20","m":"SERIA_lr","c":"pu","x":195,"y":0.29},{"p":"PP20","m":"SERIA_lr","c":"pu","x":210,"y":0.27},{"p":"PP20","m":"SERIA_lr","c":"pu","x":230,"y":0.29},{"p":"PP20","m":"SERIA_lr","c":"pu","x":260,"y":0.35},{"p":"PP20","m":"SERIA_lr","c":"pu","x":300,"y":0.41},{"p":"PP20","m":"SERIA_lr","c":"pu","x":340,"y":0.44},{"p":"PP20","m":"SERIA_lr","c":"pu","x":370,"y":0.44},{"p":"PP20","m":"SERIA_lr","c":"pu","x":400,"y":0.41},{"p":"PP20","m":"SERIA_lr","c":"pu","x":440,"y":0.33},{"p":"PP20","m":"SERIA_lr","c":"pu","x":480,"y":0.24},{"p":"PP20","m":"SERIA_lr","c":"pu","x":520,"y":0.15},{"p":"PP20","m":"SERIA_lr","c":"pu","x":560,"y":0.09},{"p":"PP20","m":"SERIA_lr","c":"pu","x":600,"y":0.05},{"p":"PP20","m":"SERIA_lr","c":"pu","x":650,"y":0.02},{"p":"PP20","m":"SERIA_lr","c":"pu","x":700,"y":0.01},{"p":"PP20","m":"SERIA_lr","c":"pu","x":800,"y":0},
{"p":"PP20","m":"SERIA","c":"pu","x":90,"y":0},{"p":"PP20","m":"SERIA","c":"pu","x":100,"y":0.02},{"p":"PP20","m":"SERIA","c":"pu","x":110,"y":0.07},{"p":"PP20","m":"SERIA","c":"pu","x":120,"y":0.2},{"p":"PP20","m":"SERIA","c":"pu","x":135,"y":0.35},{"p":"PP20","m":"SERIA","c":"pu","x":150,"y":0.42},{"p":"PP20","m":"SERIA","c":"pu","x":166,"y":0.43},{"p":"PP20","m":"SERIA","c":"pu","x":180,"y":0.37},{"p":"PP20","m":"SERIA","c":"pu","x":195,"y":0.32},{"p":"PP20","m":"SERIA","c":"pu","x":215,"y":0.31},{"p":"PP20","m":"SERIA","c":"pu","x":245,"y":0.36},{"p":"PP20","m":"SERIA","c":"pu","x":280,"y":0.42},{"p":"PP20","m":"SERIA","c":"pu","x":320,"y":0.46},{"p":"PP20","m":"SERIA","c":"pu","x":350,"y":0.47},{"p":"PP20","m":"SERIA","c":"pu","x":380,"y":0.45},{"p":"PP20","m":"SERIA","c":"pu","x":420,"y":0.37},{"p":"PP20","m":"SERIA","c":"pu","x":460,"y":0.28},{"p":"PP20","m":"SERIA","c":"pu","x":500,"y":0.19},{"p":"PP20","m":"SERIA","c":"pu","x":550,"y":0.11},{"p":"PP20","m":"SERIA","c":"pu","x":600,"y":0.06},{"p":"PP20","m":"SERIA","c":"pu","x":650,"y":0.03},{"p":"PP20","m":"SERIA","c":"pu","x":700,"y":0.01},{"p":"PP20","m":"SERIA","c":"pu","x":800,"y":0},
{"p":"PP20","m":"PROSA","c":"pu","x":100,"y":0.01},{"p":"PP20","m":"PROSA","c":"pu","x":115,"y":0.06},{"p":"PP20","m":"PROSA","c":"pu","x":130,"y":0.2},{"p":"PP20","m":"PROSA","c":"pu","x":145,"y":0.33},{"p":"PP20","m":"PROSA","c":"pu","x":160,"y":0.4},{"p":"PP20","m":"PROSA","c":"pu","x":180,"y":0.43},{"p":"PP20","m":"PROSA","c":"pu","x":200,"y":0.44},{"p":"PP20","m":"PROSA","c":"pu","x":230,"y":0.41},{"p":"PP20","m":"PROSA","c":"pu","x":260,"y":0.38},{"p":"PP20","m":"PROSA","c":"pu","x":300,"y":0.4},{"p":"PP20","m":"PROSA","c":"pu","x":340,"y":0.42},{"p":"PP20","m":"PROSA","c":"pu","x":380,"y":0.38},{"p":"PP20","m":"PROSA","c":"pu","x":420,"y":0.3},{"p":"PP20","m":"PROSA","c":"pu","x":470,"y":0.2},{"p":"PP20","m":"PROSA","c":"pu","x":520,"y":0.12},{"p":"PP20","m":"PROSA","c":"pu","x":570,"y":0.07},{"p":"PP20","m":"PROSA","c":"pu","x":620,"y":0.04},{"p":"PP20","m":"PROSA","c":"pu","x":700,"y":0.01},{"p":"PP20","m":"PROSA","c":"pu","x":800,"y":0},
{"p":"PP20","m":"SERIA_lr","c":"au","x":100,"y":0},{"p":"PP20","m":"SERIA_lr","c":"au","x":130,"y":0.02},{"p":"PP20","m":"SERIA_lr","c":"au","x":160,"y":0.06},{"p":"PP20","m":"SERIA_lr","c":"au","x":190,"y":0.13},{"p":"PP20","m":"SERIA_lr","c":"au","x":220,"y":0.2},{"p":"PP20","m":"SERIA_lr","c":"au","x":250,"y":0.25},{"p":"PP20","m":"SERIA_lr","c":"au","x":280,"y":0.28},{"p":"PP20","m":"SERIA_lr","c":"au","x":300,"y":0.29},{"p":"PP20","m":"SERIA_lr","c":"au","x":330,"y":0.28},{"p":"PP20","m":"SERIA_lr","c":"au","x":370,"y":0.25},{"p":"PP20","m":"SERIA_lr","c":"au","x":410,"y":0.2},{"p":"PP20","m":"SERIA_lr","c":"au","x":460,"y":0.15},{"p":"PP20","m":"SERIA_lr","c":"au","x":520,"y":0.09},{"p":"PP20","m":"SERIA_lr","c":"au","x":580,"y":0.05},{"p":"PP20","m":"SERIA_lr","c":"au","x":630,"y":0.03},{"p":"PP20","m":"SERIA_lr","c":"au","x":700,"y":0.01},{"p":"PP20","m":"SERIA_lr","c":"au","x":800,"y":0},
{"p":"PP20","m":"SERIA","c":"au","x":100,"y":0},{"p":"PP20","m":"SERIA","c":"au","x":130,"y":0.02},{"p":"PP20","m":"SERIA","c":"au","x":160,"y":0.06},{"p":"PP20","m":"SERIA","c":"au","x":190,"y":0.13},{"p":"PP20","m":"SERIA","c":"au","x":220,"y":0.2},{"p":"PP20","m":"SERIA","c":"au","x":250,"y":0.26},{"p":"PP20","m":"SERIA","c":"au","x":280,"y":0.29},{"p":"PP20","m":"SERIA","c":"au","x":305,"y":0.3},{"p":"PP20","m":"SERIA","c":"au","x":335,"y":0.29},{"p":"PP20","m":"SERIA","c":"au","x":370,"y":0.26},{"p":"PP20","m":"SERIA","c":"au","x":410,"y":0.21},{"p":"PP20","m":"SERIA","c":"au","x":460,"y":0.15},{"p":"PP20","m":"SERIA","c":"au","x":520,"y":0.09},{"p":"PP20","m":"SERIA","c":"au","x":580,"y":0.05},{"p":"PP20","m":"SERIA","c":"au","x":640,"y":0.02},{"p":"PP20","m":"SERIA","c":"au","x":800,"y":0},
{"p":"PP20","m":"PROSA","c":"au","x":150,"y":0},{"p":"PP20","m":"PROSA","c":"au","x":180,"y":0.05},{"p":"PP20","m":"PROSA","c":"au","x":210,"y":0.15},{"p":"PP20","m":"PROSA","c":"au","x":240,"y":0.23},{"p":"PP20","m":"PROSA","c":"au","x":270,"y":0.28},{"p":"PP20","m":"PROSA","c":"au","x":300,"y":0.3},{"p":"PP20","m":"PROSA","c":"au","x":330,"y":0.3},{"p":"PP20","m":"PROSA","c":"au","x":370,"y":0.26},{"p":"PP20","m":"PROSA","c":"au","x":410,"y":0.2},{"p":"PP20","m":"PROSA","c":"au","x":460,"y":0.14},{"p":"PP20","m":"PROSA","c":"au","x":520,"y":0.08},{"p":"PP20","m":"PROSA","c":"au","x":580,"y":0.04},{"p":"PP20","m":"PROSA","c":"au","x":650,"y":0.02},{"p":"PP20","m":"PROSA","c":"au","x":800,"y":0},
{"p":"PP20","m":"SERIA_lr","c":"pd","x":100,"y":0},{"p":"PP20","m":"SERIA_lr","c":"pd","x":111,"y":-0.15},{"p":"PP20","m":"SERIA_lr","c":"pd","x":122,"y":-0.48},{"p":"PP20","m":"SERIA_lr","c":"pd","x":133,"y":-1.0},{"p":"PP20","m":"SERIA_lr","c":"pd","x":144,"y":-1.39},{"p":"PP20","m":"SERIA_lr","c":"pd","x":155,"y":-1.65},{"p":"PP20","m":"SERIA_lr","c":"pd","x":166,"y":-1.79},{"p":"PP20","m":"SERIA_lr","c":"pd","x":177,"y":-1.65},{"p":"PP20","m":"SERIA_lr","c":"pd","x":188,"y":-1.4},{"p":"PP20","m":"SERIA_lr","c":"pd","x":199,"y":-1.15},{"p":"PP20","m":"SERIA_lr","c":"pd","x":210,"y":-0.95},{"p":"PP20","m":"SERIA_lr","c":"pd","x":220,"y":-0.78},{"p":"PP20","m":"SERIA_lr","c":"pd","x":231,"y":-0.62},{"p":"PP20","m":"SERIA_lr","c":"pd","x":250,"y":-0.47},{"p":"PP20","m":"SERIA_lr","c":"pd","x":275,"y":-0.34},{"p":"PP20","m":"SERIA_lr","c":"pd","x":300,"y":-0.26},{"p":"PP20","m":"SERIA_lr","c":"pd","x":340,"y":-0.18},{"p":"PP20","m":"SERIA_lr","c":"pd","x":400,"y":-0.1},{"p":"PP20","m":"SERIA_lr","c":"pd","x":450,"y":-0.06},{"p":"PP20","m":"SERIA_lr","c":"pd","x":500,"y":-0.03},{"p":"PP20","m":"SERIA_lr","c":"pd","x":600,"y":-0.01},{"p":"PP20","m":"SERIA_lr","c":"pd","x":800,"y":0},
{"p":"PP20","m":"SERIA","c":"pd","x":100,"y":0},{"p":"PP20","m":"SERIA","c":"pd","x":111,"y":-0.12},{"p":"PP20","m":"SERIA","c":"pd","x":122,"y":-0.45},{"p":"PP20","m":"SERIA","c":"pd","x":133,"y":-0.95},{"p":"PP20","m":"SERIA","c":"pd","x":144,"y":-1.35},{"p":"PP20","m":"SERIA","c":"pd","x":155,"y":-1.62},{"p":"PP20","m":"SERIA","c":"pd","x":166,"y":-1.76},{"p":"PP20","m":"SERIA","c":"pd","x":177,"y":-1.66},{"p":"PP20","m":"SERIA","c":"pd","x":188,"y":-1.42},{"p":"PP20","m":"SERIA","c":"pd","x":199,"y":-1.17},{"p":"PP20","m":"SERIA","c":"pd","x":210,"y":-0.97},{"p":"PP20","m":"SERIA","c":"pd","x":220,"y":-0.8},{"p":"PP20","m":"SERIA","c":"pd","x":231,"y":-0.64},{"p":"PP20","m":"SERIA","c":"pd","x":250,"y":-0.48},{"p":"PP20","m":"SERIA","c":"pd","x":275,"y":-0.35},{"p":"PP20","m":"SERIA","c":"pd","x":300,"y":-0.27},{"p":"PP20","m":"SERIA","c":"pd","x":340,"y":-0.18},{"p":"PP20","m":"SERIA","c":"pd","x":400,"y":-0.1},{"p":"PP20","m":"SERIA","c":"pd","x":500,"y":-0.03},{"p":"PP20","m":"SERIA","c":"pd","x":600,"y":-0.01},{"p":"PP20","m":"SERIA","c":"pd","x":800,"y":0},
{"p":"PP20","m":"PROSA","c":"pd","x":105,"y":-0.01},{"p":"PP20","m":"PROSA","c":"pd","x":115,"y":-0.1},{"p":"PP20","m":"PROSA","c":"pd","x":125,"y":-0.3},{"p":"PP20","m":"PROSA","c":"pd","x":140,"y":-0.85},{"p":"PP20","m":"PROSA","c":"pd","x":155,"y":-1.35},{"p":"PP20","m":"PROSA","c":"pd","x":165,"y":-1.6},{"p":"PP20","m":"PROSA","c":"pd","x":175,"y":-1.68},{"p":"PP20","m":"PROSA","c":"pd","x":185,"y":-1.5},{"p":"PP20","m":"PROSA","c":"pd","x":200,"y":-1.2},{"p":"PP20","m":"PROSA","c":"pd","x":215,"y":-1.0},{"p":"PP20","m":"PROSA","c":"pd","x":230,"y":-0.93},{"p":"PP20","m":"PROSA","c":"pd","x":250,"y":-0.72},{"p":"PP20","m":"PROSA","c":"pd","x":280,"y":-0.49},{"p":"PP20","m":"PROSA","c":"pd","x":310,"y":-0.32},{"p":"PP20","m":"PROSA","c":"pd","x":357,"y":-0.15},{"p":"PP20","m":"PROSA","c":"pd","x":400,"y":-0.08},{"p":"PP20","m":"PROSA","c":"pd","x":500,"y":-0.02},{"p":"PP20","m":"PROSA","c":"pd","x":800,"y":0},
{"p":"PP20","m":"SERIA_lr","c":"ad","x":100,"y":0},{"p":"PP20","m":"SERIA_lr","c":"ad","x":140,"y":-0.04},{"p":"PP20","m":"SERIA_lr","c":"ad","x":177,"y":-0.15},{"p":"PP20","m":"SERIA_lr","c":"ad","x":199,"y":-0.4},{"p":"PP20","m":"SERIA_lr","c":"ad","x":215,"y":-0.67},{"p":"PP20","m":"SERIA_lr","c":"ad","x":226,"y":-1.04},{"p":"PP20","m":"SERIA_lr","c":"ad","x":242,"y":-1.94},{"p":"PP20","m":"SERIA_lr","c":"ad","x":258,"y":-2.45},{"p":"PP20","m":"SERIA_lr","c":"ad","x":280,"y":-2.75},{"p":"PP20","m":"SERIA_lr","c":"ad","x":303,"y":-2.88},{"p":"PP20","m":"SERIA_lr","c":"ad","x":320,"y":-2.75},{"p":"PP20","m":"SERIA_lr","c":"ad","x":334,"y":-2.46},{"p":"PP20","m":"SERIA_lr","c":"ad","x":360,"y":-2.0},{"p":"PP20","m":"SERIA_lr","c":"ad","x":389,"y":-1.42},{"p":"PP20","m":"SERIA_lr","c":"ad","x":415,"y":-1.05},{"p":"PP20","m":"SERIA_lr","c":"ad","x":444,"y":-0.78},{"p":"PP20","m":"SERIA_lr","c":"ad","x":470,"y":-0.58},{"p":"PP20","m":"SERIA_lr","c":"ad","x":498,"y":-0.41},{"p":"PP20","m":"SERIA_lr","c":"ad","x":553,"y":-0.19},{"p":"PP20","m":"SERIA_lr","c":"ad","x":608,"y":-0.1},{"p":"PP20","m":"SERIA_lr","c":"ad","x":717,"y":-0.03},{"p":"PP20","m":"SERIA_lr","c":"ad","x":800,"y":0},
{"p":"PP20","m":"SERIA","c":"ad","x":100,"y":0},{"p":"PP20","m":"SERIA","c":"ad","x":140,"y":-0.03},{"p":"PP20","m":"SERIA","c":"ad","x":177,"y":-0.13},{"p":"PP20","m":"SERIA","c":"ad","x":199,"y":-0.37},{"p":"PP20","m":"SERIA","c":"ad","x":215,"y":-0.64},{"p":"PP20","m":"SERIA","c":"ad","x":226,"y":-1.0},{"p":"PP20","m":"SERIA","c":"ad","x":242,"y":-1.88},{"p":"PP20","m":"SERIA","c":"ad","x":258,"y":-2.4},{"p":"PP20","m":"SERIA","c":"ad","x":280,"y":-2.72},{"p":"PP20","m":"SERIA","c":"ad","x":305,"y":-2.83},{"p":"PP20","m":"SERIA","c":"ad","x":322,"y":-2.72},{"p":"PP20","m":"SERIA","c":"ad","x":336,"y":-2.45},{"p":"PP20","m":"SERIA","c":"ad","x":360,"y":-2.02},{"p":"PP20","m":"SERIA","c":"ad","x":389,"y":-1.45},{"p":"PP20","m":"SERIA","c":"ad","x":415,"y":-1.08},{"p":"PP20","m":"SERIA","c":"ad","x":444,"y":-0.8},{"p":"PP20","m":"SERIA","c":"ad","x":470,"y":-0.6},{"p":"PP20","m":"SERIA","c":"ad","x":498,"y":-0.43},{"p":"PP20","m":"SERIA","c":"ad","x":553,"y":-0.2},{"p":"PP20","m":"SERIA","c":"ad","x":608,"y":-0.1},{"p":"PP20","m":"SERIA","c":"ad","x":717,"y":-0.03},{"p":"PP20","m":"SERIA","c":"ad","x":800,"y":0},
{"p":"PP20","m":"PROSA","c":"ad","x":170,"y":0},{"p":"PP20","m":"PROSA","c":"ad","x":190,"y":-0.05},{"p":"PP20","m":"PROSA","c":"ad","x":205,"y":-0.15},{"p":"PP20","m":"PROSA","c":"ad","x":220,"y":-0.45},{"p":"PP20","m":"PROSA","c":"ad","x":235,"y":-1.1},{"p":"PP20","m":"PROSA","c":"ad","x":250,"y":-1.8},{"p":"PP20","m":"PROSA","c":"ad","x":265,"y":-2.35},{"p":"PP20","m":"PROSA","c":"ad","x":285,"y":-2.75},{"p":"PP20","m":"PROSA","c":"ad","x":305,"y":-2.93},{"p":"PP20","m":"PROSA","c":"ad","x":325,"y":-2.8},{"p":"PP20","m":"PROSA","c":"ad","x":345,"y":-2.4},{"p":"PP20","m":"PROSA","c":"ad","x":370,"y":-1.85},{"p":"PP20","m":"PROSA","c":"ad","x":400,"y":-1.3},{"p":"PP20","m":"PROSA","c":"ad","x":440,"y":-0.82},{"p":"PP20","m":"PROSA","c":"ad","x":500,"y":-0.42},{"p":"PP20","m":"PROSA","c":"ad","x":550,"y":-0.21},{"p":"PP20","m":"PROSA","c":"ad","x":600,"y":-0.11},{"p":"PP20","m":"PROSA","c":"ad","x":700,"y":-0.03},{"p":"PP20","m":"PROSA","c":"ad","x":800,"y":0},
{"p":"PP50","m":"SERIA_lr","c":"pu","x":90,"y":0},{"p":"PP50","m":"SERIA_lr","c":"pu","x":110,"y":0.03},{"p":"PP50","m":"SERIA_lr","c":"pu","x":125,"y":0.3},{"p":"PP50","m":"SERIA_lr","c":"pu","x":140,"y":0.95},{"p":"PP50","m":"SERIA_lr","c":"pu","x":152,"y":1.5},{"p":"PP50","m":"SERIA_lr","c":"pu","x":162,"y":1.63},{"p":"PP50","m":"SERIA_lr","c":"pu","x":172,"y":1.5},{"p":"PP50","m":"SERIA_lr","c":"pu","x":185,"y":1.15},{"p":"PP50","m":"SERIA_lr","c":"pu","x":200,"y":0.9},{"p":"PP50","m":"SERIA_lr","c":"pu","x":215,"y":0.79},{"p":"PP50","m":"SERIA_lr","c":"pu","x":236,"y":0.77},{"p":"PP50","m":"SERIA_lr","c":"pu","x":255,"y":0.88},{"p":"PP50","m":"SERIA_lr","c":"pu","x":280,"y":1.1},{"p":"PP50","m":"SERIA_lr","c":"pu","x":310,"y":1.32},{"p":"PP50","m":"SERIA_lr","c":"pu","x":335,"y":1.42},{"p":"PP50","m":"SERIA_lr","c":"pu","x":355,"y":1.45},{"p":"PP50","m":"SERIA_lr","c":"pu","x":375,"y":1.4},{"p":"PP50","m":"SERIA_lr","c":"pu","x":400,"y":1.25},{"p":"PP50","m":"SERIA_lr","c":"pu","x":427,"y":1.05},{"p":"PP50","m":"SERIA_lr","c":"pu","x":450,"y":0.85},{"p":"PP50","m":"SERIA_lr","c":"pu","x":480,"y":0.58},{"p":"PP50","m":"SERIA_lr","c":"pu","x":510,"y":0.38},{"p":"PP50","m":"SERIA_lr","c":"pu","x":540,"y":0.24},{"p":"PP50","m":"SERIA_lr","c":"pu","x":570,"y":0.15},{"p":"PP50","m":"SERIA_lr","c":"pu","x":600,"y":0.09},{"p":"PP50","m":"SERIA_lr","c":"pu","x":650,"y":0.04},{"p":"PP50","m":"SERIA_lr","c":"pu","x":700,"y":0.02},{"p":"PP50","m":"SERIA_lr","c":"pu","x":800,"y":0},
{"p":"PP50","m":"SERIA","c":"pu","x":90,"y":0},{"p":"PP50","m":"SERIA","c":"pu","x":110,"y":0.03},{"p":"PP50","m":"SERIA","c":"pu","x":125,"y":0.28},{"p":"PP50","m":"SERIA","c":"pu","x":140,"y":0.9},{"p":"PP50","m":"SERIA","c":"pu","x":152,"y":1.45},{"p":"PP50","m":"SERIA","c":"pu","x":162,"y":1.6},{"p":"PP50","m":"SERIA","c":"pu","x":172,"y":1.49},{"p":"PP50","m":"SERIA","c":"pu","x":185,"y":1.17},{"p":"PP50","m":"SERIA","c":"pu","x":200,"y":0.93},{"p":"PP50","m":"SERIA","c":"pu","x":215,"y":0.82},{"p":"PP50","m":"SERIA","c":"pu","x":236,"y":0.8},{"p":"PP50","m":"SERIA","c":"pu","x":255,"y":0.9},{"p":"PP50","m":"SERIA","c":"pu","x":280,"y":1.12},{"p":"PP50","m":"SERIA","c":"pu","x":310,"y":1.32},{"p":"PP50","m":"SERIA","c":"pu","x":335,"y":1.41},{"p":"PP50","m":"SERIA","c":"pu","x":355,"y":1.43},{"p":"PP50","m":"SERIA","c":"pu","x":375,"y":1.39},{"p":"PP50","m":"SERIA","c":"pu","x":400,"y":1.25},{"p":"PP50","m":"SERIA","c":"pu","x":427,"y":1.06},{"p":"PP50","m":"SERIA","c":"pu","x":450,"y":0.87},{"p":"PP50","m":"SERIA","c":"pu","x":480,"y":0.6},{"p":"PP50","m":"SERIA","c":"pu","x":510,"y":0.4},{"p":"PP50","m":"SERIA","c":"pu","x":540,"y":0.26},{"p":"PP50","m":"SERIA","c":"pu","x":570,"y":0.16},{"p":"PP50","m":"SERIA","c":"pu","x":600,"y":0.1},{"p":"PP50","m":"SERIA","c":"pu","x":650,"y":0.05},{"p":"PP50","m":"SERIA","c":"pu","x":700,"y":0.02},{"p":"PP50","m":"SERIA","c":"pu","x":800,"y":0},
{"p":"PP50","m":"PROSA","c":"pu","x":100,"y":0.01},{"p":"PP50","m":"PROSA","c":"pu","x":115,"y":0.08},{"p":"PP50","m":"PROSA","c":"pu","x":130,"y":0.4},{"p":"PP50","m":"PROSA","c":"pu","x":145,"y":0.9},{"p":"PP50","m":"PROSA","c":"pu","x":160,"y":1.2},{"p":"PP50","m":"PROSA","c":"pu","x":175,"y":1.31},{"p":"PP50","m":"PROSA","c":"pu","x":192,"y":1.34},{"p":"PP50","m":"PROSA","c":"pu","x":215,"y":1.3},{"p":"PP50","m":"PROSA","c":"pu","x":240,"y":1.28},{"p":"PP50","m":"PROSA","c":"pu","x":275,"y":1.28},{"p":"PP50","m":"PROSA","c":"pu","x":300,"y":1.3},{"p":"PP50","m":"PROSA","c":"pu","x":318,"y":1.29},{"p":"PP50","m":"PROSA","c":"pu","x":340,"y":1.2},{"p":"PP50","m":"PROSA","c":"pu","x":373,"y":1.06},{"p":"PP50","m":"PROSA","c":"pu","x":400,"y":0.9},{"p":"PP50","m":"PROSA","c":"pu","x":427,"y":0.72},{"p":"PP50","m":"PROSA","c":"pu","x":455,"y":0.55},{"p":"PP50","m":"PROSA","c":"pu","x":482,"y":0.39},{"p":"PP50","m":"PROSA","c":"pu","x":510,"y":0.28},{"p":"PP50","m":"PROSA","c":"pu","x":537,"y":0.18},{"p":"PP50","m":"PROSA","c":"pu","x":580,"y":0.1},{"p":"PP50","m":"PROSA","c":"pu","x":646,"y":0.05},{"p":"PP50","m":"PROSA","c":"pu","x":700,"y":0.02},{"p":"PP50","m":"PROSA","c":"pu","x":800,"y":0.01},
{"p":"PP50","m":"SERIA_lr","c":"au","x":150,"y":0},{"p":"PP50","m":"SERIA_lr","c":"au","x":180,"y":0.02},{"p":"PP50","m":"SERIA_lr","c":"au","x":200,"y":0.07},{"p":"PP50","m":"SERIA_lr","c":"au","x":230,"y":0.17},{"p":"PP50","m":"SERIA_lr","c":"au","x":260,"y":0.25},{"p":"PP50","m":"SERIA_lr","c":"au","x":290,"y":0.28},{"p":"PP50","m":"SERIA_lr","c":"au","x":310,"y":0.28},{"p":"PP50","m":"SERIA_lr","c":"au","x":340,"y":0.25},{"p":"PP50","m":"SERIA_lr","c":"au","x":380,"y":0.19},{"p":"PP50","m":"SERIA_lr","c":"au","x":420,"y":0.13},{"p":"PP50","m":"SERIA_lr","c":"au","x":460,"y":0.08},{"p":"PP50","m":"SERIA_lr","c":"au","x":500,"y":0.05},{"p":"PP50","m":"SERIA_lr","c":"au","x":560,"y":0.02},{"p":"PP50","m":"SERIA_lr","c":"au","x":650,"y":0.01},{"p":"PP50","m":"SERIA_lr","c":"au","x":800,"y":0},
{"p":"PP50","m":"SERIA","c":"au","x":150,"y":0},{"p":"PP50","m":"SERIA","c":"au","x":180,"y":0.02},{"p":"PP50","m":"SERIA","c":"au","x":200,"y":0.07},{"p":"PP50","m":"SERIA","c":"au","x":230,"y":0.18},{"p":"PP50","m":"SERIA","c":"au","x":260,"y":0.26},{"p":"PP50","m":"SERIA","c":"au","x":290,"y":0.29},{"p":"PP50","m":"SERIA","c":"au","x":315,"y":0.28},{"p":"PP50","m":"SERIA","c":"au","x":345,"y":0.25},{"p":"PP50","m":"SERIA","c":"au","x":385,"y":0.19},{"p":"PP50","m":"SERIA","c":"au","x":425,"y":0.13},{"p":"PP50","m":"SERIA","c":"au","x":465,"y":0.08},{"p":"PP50","m":"SERIA","c":"au","x":510,"y":0.05},{"p":"PP50","m":"SERIA","c":"au","x":570,"y":0.02},{"p":"PP50","m":"SERIA","c":"au","x":660,"y":0.01},{"p":"PP50","m":"SERIA","c":"au","x":800,"y":0},
{"p":"PP50","m":"PROSA","c":"au","x":170,"y":0},{"p":"PP50","m":"PROSA","c":"au","x":190,"y":0.02},{"p":"PP50","m":"PROSA","c":"au","x":210,"y":0.06},{"p":"PP50","m":"PROSA","c":"au","x":240,"y":0.16},{"p":"PP50","m":"PROSA","c":"au","x":270,"y":0.24},{"p":"PP50","m":"PROSA","c":"au","x":300,"y":0.27},{"p":"PP50","m":"PROSA","c":"au","x":330,"y":0.26},{"p":"PP50","m":"PROSA","c":"au","x":370,"y":0.21},{"p":"PP50","m":"PROSA","c":"au","x":420,"y":0.15},{"p":"PP50","m":"PROSA","c":"au","x":470,"y":0.1},{"p":"PP50","m":"PROSA","c":"au","x":520,"y":0.06},{"p":"PP50","m":"PROSA","c":"au","x":600,"y":0.03},{"p":"PP50","m":"PROSA","c":"au","x":700,"y":0.01},{"p":"PP50","m":"PROSA","c":"au","x":800,"y":0},
{"p":"PP50","m":"SERIA_lr","c":"pd","x":100,"y":0},{"p":"PP50","m":"SERIA_lr","c":"pd","x":115,"y":-0.03},{"p":"PP50","m":"SERIA_lr","c":"pd","x":125,"y":-0.2},{"p":"PP50","m":"SERIA_lr","c":"pd","x":135,"y":-0.6},{"p":"PP50","m":"SERIA_lr","c":"pd","x":145,"y":-1.1},{"p":"PP50","m":"SERIA_lr","c":"pd","x":155,"y":-1.5},{"p":"PP50","m":"SERIA_lr","c":"pd","x":163,"y":-1.61},{"p":"PP50","m":"SERIA_lr","c":"pd","x":172,"y":-1.48},{"p":"PP50","m":"SERIA_lr","c":"pd","x":182,"y":-1.1},{"p":"PP50","m":"SERIA_lr","c":"pd","x":192,"y":-0.78},{"p":"PP50","m":"SERIA_lr","c":"pd","x":205,"y":-0.56},{"p":"PP50","m":"SERIA_lr","c":"pd","x":225,"y":-0.42},{"p":"PP50","m":"SERIA_lr","c":"pd","x":260,"y":-0.3},{"p":"PP50","m":"SERIA_lr","c":"pd","x":300,"y":-0.2},{"p":"PP50","m":"SERIA_lr","c":"pd","x":350,"y":-0.12},{"p":"PP50","m":"SERIA_lr","c":"pd","x":400,"y":-0.07},{"p":"PP50","m":"SERIA_lr","c":"pd","x":450,"y":-0.04},{"p":"PP50","m":"SERIA_lr","c":"pd","x":500,"y":-0.02},{"p":"PP50","m":"SERIA_lr","c":"pd","x":600,"y":-0.01},{"p":"PP50","m":"SERIA_lr","c":"pd","x":800,"y":0},
{"p":"PP50","m":"SERIA","c":"pd","x":100,"y":0},{"p":"PP50","m":"SERIA","c":"pd","x":115,"y":-0.03},{"p":"PP50","m":"SERIA","c":"pd","x":125,"y":-0.18},{"p":"PP50","m":"SERIA","c":"pd","x":135,"y":-0.57},{"p":"PP50","m":"SERIA","c":"pd","x":145,"y":-1.06},{"p":"PP50","m":"SERIA","c":"pd","x":155,"y":-1.46},{"p":"PP50","m":"SERIA","c":"pd","x":163,"y":-1.58},{"p":"PP50","m":"SERIA","c":"pd","x":172,"y":-1.47},{"p":"PP50","m":"SERIA","c":"pd","x":182,"y":-1.12},{"p":"PP50","m":"SERIA","c":"pd","x":192,"y":-0.8},{"p":"PP50","m":"SERIA","c":"pd","x":205,"y":-0.58},{"p":"PP50","m":"SERIA","c":"pd","x":225,"y":-0.44},{"p":"PP50","m":"SERIA","c":"pd","x":260,"y":-0.31},{"p":"PP50","m":"SERIA","c":"pd","x":300,"y":-0.21},{"p":"PP50","m":"SERIA","c":"pd","x":350,"y":-0.13},{"p":"PP50","m":"SERIA","c":"pd","x":400,"y":-0.07},{"p":"PP50","m":"SERIA","c":"pd","x":500,"y":-0.02},{"p":"PP50","m":"SERIA","c":"pd","x":600,"y":-0.01},{"p":"PP50","m":"SERIA","c":"pd","x":800,"y":0},
{"p":"PP50","m":"PROSA","c":"pd","x":100,"y":0},{"p":"PP50","m":"PROSA","c":"pd","x":120,"y":-0.08},{"p":"PP50","m":"PROSA","c":"pd","x":135,"y":-0.45},{"p":"PP50","m":"PROSA","c":"pd","x":150,"y":-0.88},{"p":"PP50","m":"PROSA","c":"pd","x":163,"y":-1.06},{"p":"PP50","m":"PROSA","c":"pd","x":175,"y":-1.1},{"p":"PP50","m":"PROSA","c":"pd","x":190,"y":-1.0},{"p":"PP50","m":"PROSA","c":"pd","x":210,"y":-0.85},{"p":"PP50","m":"PROSA","c":"pd","x":240,"y":-0.62},{"p":"PP50","m":"PROSA","c":"pd","x":270,"y":-0.48},{"p":"PP50","m":"PROSA","c":"pd","x":300,"y":-0.36},{"p":"PP50","m":"PROSA","c":"pd","x":330,"y":-0.26},{"p":"PP50","m":"PROSA","c":"pd","x":370,"y":-0.17},{"p":"PP50","m":"PROSA","c":"pd","x":420,"y":-0.1},{"p":"PP50","m":"PROSA","c":"pd","x":480,"y":-0.05},{"p":"PP50","m":"PROSA","c":"pd","x":560,"y":-0.02},{"p":"PP50","m":"PROSA","c":"pd","x":800,"y":0},
{"p":"PP50","m":"SERIA_lr","c":"ad","x":150,"y":0},{"p":"PP50","m":"SERIA_lr","c":"ad","x":180,"y":-0.03},{"p":"PP50","m":"SERIA_lr","c":"ad","x":200,"y":-0.1},{"p":"PP50","m":"SERIA_lr","c":"ad","x":220,"y":-0.25},{"p":"PP50","m":"SERIA_lr","c":"ad","x":241,"y":-0.48},{"p":"PP50","m":"SERIA_lr","c":"ad","x":260,"y":-0.68},{"p":"PP50","m":"SERIA_lr","c":"ad","x":285,"y":-0.98},{"p":"PP50","m":"SERIA_lr","c":"ad","x":318,"y":-1.31},{"p":"PP50","m":"SERIA_lr","c":"ad","x":346,"y":-1.5},{"p":"PP50","m":"SERIA_lr","c":"ad","x":370,"y":-1.45},{"p":"PP50","m":"SERIA_lr","c":"ad","x":395,"y":-1.22},{"p":"PP50","m":"SERIA_lr","c":"ad","x":427,"y":-0.92},{"p":"PP50","m":"SERIA_lr","c":"ad","x":455,"y":-0.7},{"p":"PP50","m":"SERIA_lr","c":"ad","x":482,"y":-0.51},{"p":"PP50","m":"SERIA_lr","c":"ad","x":510,"y":-0.37},{"p":"PP50","m":"SERIA_lr","c":"ad","x":537,"y":-0.27},{"p":"PP50","m":"SERIA_lr","c":"ad","x":565,"y":-0.2},{"p":"PP50","m":"SERIA_lr","c":"ad","x":591,"y":-0.15},{"p":"PP50","m":"SERIA_lr","c":"ad","x":646,"y":-0.07},{"p":"PP50","m":"SERIA_lr","c":"ad","x":755,"y":-0.03},{"p":"PP50","m":"SERIA_lr","c":"ad","x":800,"y":-0.02},
{"p":"PP50","m":"SERIA","c":"ad","x":150,"y":0},{"p":"PP50","m":"SERIA","c":"ad","x":180,"y":-0.03},{"p":"PP50","m":"SERIA","c":"ad","x":200,"y":-0.1},{"p":"PP50","m":"SERIA","c":"ad","x":220,"y":-0.24},{"p":"PP50","m":"SERIA","c":"ad","x":241,"y":-0.46},{"p":"PP50","m":"SERIA","c":"ad","x":260,"y":-0.66},{"p":"PP50","m":"SERIA","c":"ad","x":285,"y":-0.96},{"p":"PP50","m":"SERIA","c":"ad","x":318,"y":-1.3},{"p":"PP50","m":"SERIA","c":"ad","x":348,"y":-1.48},{"p":"PP50","m":"SERIA","c":"ad","x":372,"y":-1.44},{"p":"PP50","m":"SERIA","c":"ad","x":397,"y":-1.22},{"p":"PP50","m":"SERIA","c":"ad","x":430,"y":-0.92},{"p":"PP50","m":"SERIA","c":"ad","x":458,"y":-0.7},{"p":"PP50","m":"SERIA","c":"ad","x":485,"y":-0.52},{"p":"PP50","m":"SERIA","c":"ad","x":512,"y":-0.38},{"p":"PP50","m":"SERIA","c":"ad","x":540,"y":-0.28},{"p":"PP50","m":"SERIA","c":"ad","x":570,"y":-0.2},{"p":"PP50","m":"SERIA","c":"ad","x":600,"y":-0.14},{"p":"PP50","m":"SERIA","c":"ad","x":650,"y":-0.07},{"p":"PP50","m":"SERIA","c":"ad","x":755,"y":-0.03},{"p":"PP50","m":"SERIA","c":"ad","x":800,"y":-0.02},
{"p":"PP50","m":"PROSA","c":"ad","x":180,"y":0},{"p":"PP50","m":"PROSA","c":"ad","x":200,"y":-0.05},{"p":"PP50","m":"PROSA","c":"ad","x":230,"y":-0.25},{"p":"PP50","m":"PROSA","c":"ad","x":260,"y":-0.6},{"p":"PP50","m":"PROSA","c":"ad","x":290,"y":-1.0},{"p":"PP50","m":"PROSA","c":"ad","x":320,"y":-1.32},{"p":"PP50","m":"PROSA","c":"ad","x":350,"y":-1.47},{"p":"PP50","m":"PROSA","c":"ad","x":380,"y":-1.38},{"p":"PP50","m":"PROSA","c":"ad","x":410,"y":-1.12},{"p":"PP50","m":"PROSA","c":"ad","x":440,"y":-0.85},{"p":"PP50","m":"PROSA","c":"ad","x":470,"y":-0.62},{"p":"PP50","m":"PROSA","c":"ad","x":500,"y":-0.44},{"p":"PP50","m":"PROSA","c":"ad","x":540,"y":-0.28},{"p":"PP50","m":"PROSA","c":"ad","x":590,"y":-0.16},{"p":"PP50","m":"PROSA","c":"ad","x":650,"y":-0.08},{"p":"PP50","m":"PROSA","c":"ad","x":750,"y":-0.03},{"p":"PP50","m":"PROSA","c":"ad","x":800,"y":-0.02},
{"p":"PP80","m":"SERIA_lr","c":"pu","x":60,"y":0},{"p":"PP80","m":"SERIA_lr","c":"pu","x":80,"y":0.03},{"p":"PP80","m":"SERIA_lr","c":"pu","x":95,"y":0.2},{"p":"PP80","m":"SERIA_lr","c":"pu","x":110,"y":0.9},{"p":"PP80","m":"SERIA_lr","c":"pu","x":125,"y":2.2},{"p":"PP80","m":"SERIA_lr","c":"pu","x":140,"y":3.1},{"p":"PP80","m":"SERIA_lr","c":"pu","x":160,"y":3.45},{"p":"PP80","m":"SERIA_lr","c":"pu","x":172,"y":3.2},{"p":"PP80","m":"SERIA_lr","c":"pu","x":185,"y":2.7},{"p":"PP80","m":"SERIA_lr","c":"pu","x":200,"y":2.2},{"p":"PP80","m":"SERIA_lr","c":"pu","x":220,"y":1.9},{"p":"PP80","m":"SERIA_lr","c":"pu","x":242,"y":1.82},{"p":"PP80","m":"SERIA_lr","c":"pu","x":262,"y":1.98},{"p":"PP80","m":"SERIA_lr","c":"pu","x":285,"y":2.3},{"p":"PP80","m":"SERIA_lr","c":"pu","x":315,"y":2.48},{"p":"PP80","m":"SERIA_lr","c":"pu","x":335,"y":2.4},{"p":"PP80","m":"SERIA_lr","c":"pu","x":355,"y":2.1},{"p":"PP80","m":"SERIA_lr","c":"pu","x":374,"y":1.77},{"p":"PP80","m":"SERIA_lr","c":"pu","x":400,"y":1.3},{"p":"PP80","m":"SERIA_lr","c":"pu","x":429,"y":0.98},{"p":"PP80","m":"SERIA_lr","c":"pu","x":455,"y":0.72},{"p":"PP80","m":"SERIA_lr","c":"pu","x":484,"y":0.49},{"p":"PP80","m":"SERIA_lr","c":"pu","x":510,"y":0.34},{"p":"PP80","m":"SERIA_lr","c":"pu","x":538,"y":0.23},{"p":"PP80","m":"SERIA_lr","c":"pu","x":565,"y":0.15},{"p":"PP80","m":"SERIA_lr","c":"pu","x":593,"y":0.1},{"p":"PP80","m":"SERIA_lr","c":"pu","x":648,"y":0.045},{"p":"PP80","m":"SERIA_lr","c":"pu","x":700,"y":0.02},{"p":"PP80","m":"SERIA_lr","c":"pu","x":800,"y":0},
{"p":"PP80","m":"SERIA","c":"pu","x":60,"y":0},{"p":"PP80","m":"SERIA","c":"pu","x":80,"y":0.03},{"p":"PP80","m":"SERIA","c":"pu","x":95,"y":0.18},{"p":"PP80","m":"SERIA","c":"pu","x":110,"y":0.85},{"p":"PP80","m":"SERIA","c":"pu","x":125,"y":2.1},{"p":"PP80","m":"SERIA","c":"pu","x":140,"y":3.05},{"p":"PP80","m":"SERIA","c":"pu","x":160,"y":3.4},{"p":"PP80","m":"SERIA","c":"pu","x":172,"y":3.18},{"p":"PP80","m":"SERIA","c":"pu","x":185,"y":2.7},{"p":"PP80","m":"SERIA","c":"pu","x":200,"y":2.22},{"p":"PP80","m":"SERIA","c":"pu","x":220,"y":1.93},{"p":"PP80","m":"SERIA","c":"pu","x":242,"y":1.85},{"p":"PP80","m":"SERIA","c":"pu","x":262,"y":2.0},{"p":"PP80","m":"SERIA","c":"pu","x":290,"y":2.33},{"p":"PP80","m":"SERIA","c":"pu","x":318,"y":2.45},{"p":"PP80","m":"SERIA","c":"pu","x":338,"y":2.38},{"p":"PP80","m":"SERIA","c":"pu","x":358,"y":2.1},{"p":"PP80","m":"SERIA","c":"pu","x":378,"y":1.78},{"p":"PP80","m":"SERIA","c":"pu","x":405,"y":1.32},{"p":"PP80","m":"SERIA","c":"pu","x":434,"y":1.0},{"p":"PP80","m":"SERIA","c":"pu","x":460,"y":0.74},{"p":"PP80","m":"SERIA","c":"pu","x":490,"y":0.5},{"p":"PP80","m":"SERIA","c":"pu","x":515,"y":0.36},{"p":"PP80","m":"SERIA","c":"pu","x":545,"y":0.24},{"p":"PP80","m":"SERIA","c":"pu","x":575,"y":0.15},{"p":"PP80","m":"SERIA","c":"pu","x":600,"y":0.1},{"p":"PP80","m":"SERIA","c":"pu","x":650,"y":0.05},{"p":"PP80","m":"SERIA","c":"pu","x":700,"y":0.02},{"p":"PP80","m":"SERIA","c":"pu","x":800,"y":0},
{"p":"PP80","m":"PROSA","c":"pu","x":70,"y":0},{"p":"PP80","m":"PROSA","c":"pu","x":90,"y":0.04},{"p":"PP80","m":"PROSA","c":"pu","x":100,"y":0.15},{"p":"PP80","m":"PROSA","c":"pu","x":115,"y":0.9},{"p":"PP80","m":"PROSA","c":"pu","x":130,"y":1.8},{"p":"PP80","m":"PROSA","c":"pu","x":145,"y":2.5},{"p":"PP80","m":"PROSA","c":"pu","x":160,"y":2.85},{"p":"PP80","m":"PROSA","c":"pu","x":180,"y":2.97},{"p":"PP80","m":"PROSA","c":"pu","x":198,"y":3.0},{"p":"PP80","m":"PROSA","c":"pu","x":220,"y":2.88},{"p":"PP80","m":"PROSA","c":"pu","x":242,"y":2.66},{"p":"PP80","m":"PROSA","c":"pu","x":265,"y":2.45},{"p":"PP80","m":"PROSA","c":"pu","x":286,"y":2.29},{"p":"PP80","m":"PROSA","c":"pu","x":315,"y":2.0},{"p":"PP80","m":"PROSA","c":"pu","x":341,"y":1.77},{"p":"PP80","m":"PROSA","c":"pu","x":370,"y":1.4},{"p":"PP80","m":"PROSA","c":"pu","x":396,"y":1.09},{"p":"PP80","m":"PROSA","c":"pu","x":425,"y":0.8},{"p":"PP80","m":"PROSA","c":"pu","x":451,"y":0.57},{"p":"PP80","m":"PROSA","c":"pu","x":478,"y":0.4},{"p":"PP80","m":"PROSA","c":"pu","x":505,"y":0.27},{"p":"PP80","m":"PROSA","c":"pu","x":550,"y":0.17},{"p":"PP80","m":"PROSA","c":"pu","x":593,"y":0.12},{"p":"PP80","m":"PROSA","c":"pu","x":650,"y":0.07},{"p":"PP80","m":"PROSA","c":"pu","x":703,"y":0.045},{"p":"PP80","m":"PROSA","c":"pu","x":760,"y":0.02},{"p":"PP80","m":"PROSA","c":"pu","x":800,"y":0.01},
{"p":"PP80","m":"SERIA_lr","c":"au","x":120,"y":0},{"p":"PP80","m":"SERIA_lr","c":"au","x":160,"y":0.03},{"p":"PP80","m":"SERIA_lr","c":"au","x":200,"y":0.09},{"p":"PP80","m":"SERIA_lr","c":"au","x":240,"y":0.16},{"p":"PP80","m":"SERIA_lr","c":"au","x":270,"y":0.19},{"p":"PP80","m":"SERIA_lr","c":"au","x":300,"y":0.19},{"p":"PP80","m":"SERIA_lr","c":"au","x":330,"y":0.17},{"p":"PP80","m":"SERIA_lr","c":"au","x":370,"y":0.13},{"p":"PP80","m":"SERIA_lr","c":"au","x":420,"y":0.08},{"p":"PP80","m":"SERIA_lr","c":"au","x":470,"y":0.05},{"p":"PP80","m":"SERIA_lr","c":"au","x":520,"y":0.03},{"p":"PP80","m":"SERIA_lr","c":"au","x":600,"y":0.01},{"p":"PP80","m":"SERIA_lr","c":"au","x":800,"y":0},
{"p":"PP80","m":"SERIA","c":"au","x":120,"y":0},{"p":"PP80","m":"SERIA","c":"au","x":160,"y":0.03},{"p":"PP80","m":"SERIA","c":"au","x":200,"y":0.09},{"p":"PP80","m":"SERIA","c":"au","x":240,"y":0.16},{"p":"PP80","m":"SERIA","c":"au","x":275,"y":0.2},{"p":"PP80","m":"SERIA","c":"au","x":305,"y":0.19},{"p":"PP80","m":"SERIA","c":"au","x":335,"y":0.17},{"p":"PP80","m":"SERIA","c":"au","x":375,"y":0.13},{"p":"PP80","m":"SERIA","c":"au","x":425,"y":0.08},{"p":"PP80","m":"SERIA","c":"au","x":475,"y":0.05},{"p":"PP80","m":"SERIA","c":"au","x":530,"y":0.03},{"p":"PP80","m":"SERIA","c":"au","x":600,"y":0.01},{"p":"PP80","m":"SERIA","c":"au","x":800,"y":0},
{"p":"PP80","m":"PROSA","c":"au","x":140,"y":0},{"p":"PP80","m":"PROSA","c":"au","x":180,"y":0.04},{"p":"PP80","m":"PROSA","c":"au","x":220,"y":0.12},{"p":"PP80","m":"PROSA","c":"au","x":260,"y":0.17},{"p":"PP80","m":"PROSA","c":"au","x":300,"y":0.18},{"p":"PP80","m":"PROSA","c":"au","x":340,"y":0.15},{"p":"PP80","m":"PROSA","c":"au","x":390,"y":0.11},{"p":"PP80","m":"PROSA","c":"au","x":450,"y":0.07},{"p":"PP80","m":"PROSA","c":"au","x":520,"y":0.04},{"p":"PP80","m":"PROSA","c":"au","x":600,"y":0.02},{"p":"PP80","m":"PROSA","c":"au","x":800,"y":0},
{"p":"PP80","m":"SERIA_lr","c":"pd","x":60,"y":0},{"p":"PP80","m":"SERIA_lr","c":"pd","x":80,"y":-0.02},{"p":"PP80","m":"SERIA_lr","c":"pd","x":95,"y":-0.1},{"p":"PP80","m":"SERIA_lr","c":"pd","x":110,"y":-0.3},{"p":"PP80","m":"SERIA_lr","c":"pd","x":125,"y":-0.55},{"p":"PP80","m":"SERIA_lr","c":"pd","x":140,"y":-0.75},{"p":"PP80","m":"SERIA_lr","c":"pd","x":155,"y":-0.83},{"p":"PP80","m":"SERIA_lr","c":"pd","x":170,"y":-0.78},{"p":"PP80","m":"SERIA_lr","c":"pd","x":190,"y":-0.6},{"p":"PP80","m":"SERIA_lr","c":"pd","x":210,"y":-0.45},{"p":"PP80","m":"SERIA_lr","c":"pd","x":231,"y":-0.3},{"p":"PP80","m":"SERIA_lr","c":"pd","x":260,"y":-0.17},{"p":"PP80","m":"SERIA_lr","c":"pd","x":290,"y":-0.09},{"p":"PP80","m":"SERIA_lr","c":"pd","x":330,"y":-0.04},{"p":"PP80","m":"SERIA_lr","c":"pd","x":400,"y":-0.01},{"p":"PP80","m":"SERIA_lr","c":"pd","x":800,"y":0},
{"p":"PP80","m":"SERIA","c":"pd","x":60,"y":0},{"p":"PP80","m":"SERIA","c":"pd","x":80,"y":-0.02},{"p":"PP80","m":"SERIA","c":"pd","x":95,"y":-0.09},{"p":"PP80","m":"SERIA","c":"pd","x":110,"y":-0.28},{"p":"PP80","m":"SERIA","c":"pd","x":125,"y":-0.52},{"p":"PP80","m":"SERIA","c":"pd","x":140,"y":-0.72},{"p":"PP80","m":"SERIA","c":"pd","x":155,"y":-0.8},{"p":"PP80","m":"SERIA","c":"pd","x":170,"y":-0.77},{"p":"PP80","m":"SERIA","c":"pd","x":190,"y":-0.6},{"p":"PP80","m":"SERIA","c":"pd","x":210,"y":-0.46},{"p":"PP80","m":"SERIA","c":"pd","x":231,"y":-0.31},{"p":"PP80","m":"SERIA","c":"pd","x":260,"y":-0.18},{"p":"PP80","m":"SERIA","c":"pd","x":290,"y":-0.1},{"p":"PP80","m":"SERIA","c":"pd","x":330,"y":-0.04},{"p":"PP80","m":"SERIA","c":"pd","x":400,"y":-0.01},{"p":"PP80","m":"SERIA","c":"pd","x":800,"y":0},
{"p":"PP80","m":"PROSA","c":"pd","x":70,"y":0},{"p":"PP80","m":"PROSA","c":"pd","x":90,"y":-0.02},{"p":"PP80","m":"PROSA","c":"pd","x":105,"y":-0.08},{"p":"PP80","m":"PROSA","c":"pd","x":120,"y":-0.2},{"p":"PP80","m":"PROSA","c":"pd","x":140,"y":-0.4},{"p":"PP80","m":"PROSA","c":"pd","x":160,"y":-0.57},{"p":"PP80","m":"PROSA","c":"pd","x":182,"y":-0.65},{"p":"PP80","m":"PROSA","c":"pd","x":210,"y":-0.56},{"p":"PP80","m":"PROSA","c":"pd","x":242,"y":-0.4},{"p":"PP80","m":"PROSA","c":"pd","x":270,"y":-0.28},{"p":"PP80","m":"PROSA","c":"pd","x":300,"y":-0.19},{"p":"PP80","m":"PROSA","c":"pd","x":340,"y":-0.11},{"p":"PP80","m":"PROSA","c":"pd","x":400,"y":-0.05},{"p":"PP80","m":"PROSA","c":"pd","x":480,"y":-0.02},{"p":"PP80","m":"PROSA","c":"pd","x":800,"y":0},
{"p":"PP80","m":"SERIA_lr","c":"ad","x":150,"y":0},{"p":"PP80","m":"SERIA_lr","c":"ad","x":190,"y":-0.03},{"p":"PP80","m":"SERIA_lr","c":"ad","x":215,"y":-0.07},{"p":"PP80","m":"SERIA_lr","c":"ad","x":240,"y":-0.17},{"p":"PP80","m":"SERIA_lr","c":"ad","x":270,"y":-0.29},{"p":"PP80","m":"SERIA_lr","c":"ad","x":300,"y":-0.38},{"p":"PP80","m":"SERIA_lr","c":"ad","x":341,"y":-0.42},{"p":"PP80","m":"SERIA_lr","c":"ad","x":370,"y":-0.37},{"p":"PP80","m":"SERIA_lr","c":"ad","x":407,"y":-0.29},{"p":"PP80","m":"SERIA_lr","c":"ad","x":451,"y":-0.2},{"p":"PP80","m":"SERIA_lr","c":"ad","x":505,"y":-0.1},{"p":"PP80","m":"SERIA_lr","c":"ad","x":550,"y":-0.05},{"p":"PP80","m":"SERIA_lr","c":"ad","x":593,"y":-0.03},{"p":"PP80","m":"SERIA_lr","c":"ad","x":650,"y":-0.01},{"p":"PP80","m":"SERIA_lr","c":"ad","x":800,"y":0},
{"p":"PP80","m":"SERIA","c":"ad","x":160,"y":0},{"p":"PP80","m":"SERIA","c":"ad","x":200,"y":-0.04},{"p":"PP80","m":"SERIA","c":"ad","x":240,"y":-0.18},{"p":"PP80","m":"SERIA","c":"ad","x":270,"y":-0.33},{"p":"PP80","m":"SERIA","c":"ad","x":300,"y":-0.44},{"p":"PP80","m":"SERIA","c":"ad","x":322,"y":-0.47},{"p":"PP80","m":"SERIA","c":"ad","x":350,"y":-0.44},{"p":"PP80","m":"SERIA","c":"ad","x":390,"y":-0.33},{"p":"PP80","m":"SERIA","c":"ad","x":430,"y":-0.22},{"p":"PP80","m":"SERIA","c":"ad","x":470,"y":-0.13},{"p":"PP80","m":"SERIA","c":"ad","x":520,"y":-0.06},{"p":"PP80","m":"SERIA","c":"ad","x":580,"y":-0.02},{"p":"PP80","m":"SERIA","c":"ad","x":800,"y":0},
{"p":"PP80","m":"PROSA","c":"ad","x":170,"y":0},{"p":"PP80","m":"PROSA","c":"ad","x":210,"y":-0.05},{"p":"PP80","m":"PROSA","c":"ad","x":240,"y":-0.12},{"p":"PP80","m":"PROSA","c":"ad","x":270,"y":-0.25},{"p":"PP80","m":"PROSA","c":"ad","x":300,"y":-0.36},{"p":"PP80","m":"PROSA","c":"ad","x":330,"y":-0.42},{"p":"PP80","m":"PROSA","c":"ad","x":360,"y":-0.4},{"p":"PP80","m":"PROSA","c":"ad","x":400,"y":-0.32},{"p":"PP80","m":"PROSA","c":"ad","x":440,"y":-0.22},{"p":"PP80","m":"PROSA","c":"ad","x":490,"y":-0.12},{"p":"PP80","m":"PROSA","c":"ad","x":540,"y":-0.06},{"p":"PP80","m":"PROSA","c":"ad","x":600,"y":-0.03},{"p":"PP80","m":"PROSA","c":"ad","x":700,"y":-0.01},{"p":"PP80","m":"PROSA","c":"ad","x":800,"y":0}
]
},
"hconcat": [
{
"width": 244, "height": 445,
"title": {"text": "PP20"},
"layer": [
{"data": {"name": "hist"}, "transform": [{"filter": "datum.p == 'PP20'"}],
 "mark": {"type": "bar", "opacity": 0.29, "binSpacing": 0},
 "encoding": {
  "x": {"field": "x", "type": "quantitative", "bin": {"binned": true, "step": 10}, "scale": {"domain": [0, 800], "nice": false}, "axis": {"values": [0,200,400,600,800], "format": "d", "title": null}},
  "y": {"field": "y", "type": "quantitative", "stack": null, "scale": {"domain": [-4, 1], "nice": false}, "axis": {"values": [-4,-3,-2,-1,0,1], "format": "d", "title": "1e\u22123"}},
  "fill": {"field": "r", "type": "nominal", "scale": {"domain": ["pro.", "anti."], "range": ["#ff0000", "#0000ff"]},
   "legend": {"title": null, "orient": "none", "legendX": 132, "legendY": 485, "direction": "horizontal", "columns": 2, "gridAlign": "none", "symbolType": "M-1,-0.33L1,-0.33L1,0.33L-1,0.33Z", "symbolOpacity": 0.5, "symbolStrokeWidth": 0, "columnPadding": 18}}
 }},
{"data": {"values": [{}]}, "mark": {"type": "rule", "color": "black", "strokeWidth": 1.8}, "encoding": {"y": {"datum": 0}}},
{"data": {"name": "curves"}, "transform": [{"filter": "datum.p == 'PP20'"}],
 "mark": {"type": "line", "color": "black", "strokeWidth": 1.5, "interpolate": "monotone"},
 "encoding": {
  "x": {"field": "x", "type": "quantitative"},
  "y": {"field": "y", "type": "quantitative"},
  "strokeDash": {"field": "m", "type": "nominal", "scale": {"domain": ["PROSA", "SERIA", "SERIA_lr"], "range": [[12, 3, 2, 3], [5, 3], [1, 0]]},
   "legend": {"title": null, "orient": "none", "legendX": 366, "legendY": 485, "direction": "horizontal", "columns": 3, "gridAlign": "none", "symbolType": "stroke", "symbolStrokeColor": "black", "symbolStrokeWidth": 1.6, "columnPadding": 16, "labelExpr": "datum.label == 'SERIA_lr' ? 'SERIA\u2097\u1d63' : datum.label"}},
  "detail": {"field": "c"}
 }},
{"data": {"values": [{}]}, "mark": {"type": "rule", "color": "black", "strokeWidth": 1.8}, "encoding": {"x": {"datum": -154}, "y": {"datum": -4.25}, "y2": {"datum": -4.633}}},
{"data": {"values": [{}]}, "mark": {"type": "rule", "color": "black", "strokeWidth": 1.8}, "encoding": {"x": {"datum": -154}, "x2": {"datum": 200}, "y": {"datum": -4.633}}},
{"data": {"values": [{}]}, "mark": {"type": "text", "text": "prob.", "angle": 270, "fontSize": 17, "font": "DejaVu Sans", "align": "center", "baseline": "middle", "color": "black"}, "encoding": {"x": {"datum": -203}, "y": {"datum": -4.464}}},
{"data": {"values": [{}]}, "mark": {"type": "text", "text": "ms", "fontSize": 17, "font": "DejaVu Sans", "align": "center", "baseline": "middle", "color": "black"}, "encoding": {"x": {"datum": 21}, "y": {"datum": -4.79}}}
]
},
{
"width": 244, "height": 445,
"title": {"text": "PP50"},
"layer": [
{"data": {"name": "hist"}, "transform": [{"filter": "datum.p == 'PP50'"}],
 "mark": {"type": "bar", "opacity": 0.29, "binSpacing": 0},
 "encoding": {
  "x": {"field": "x", "type": "quantitative", "bin": {"binned": true, "step": 10}, "scale": {"domain": [0, 800], "nice": false}, "axis": {"values": [0,200,400,600,800], "format": "d", "title": null}},
  "y": {"field": "y", "type": "quantitative", "stack": null, "scale": {"domain": [-2, 2], "nice": false}, "axis": {"values": [-2,-1,0,1,2], "format": "d", "title": "1e\u22123"}},
  "fill": {"field": "r", "type": "nominal", "scale": {"domain": ["pro.", "anti."], "range": ["#ff0000", "#0000ff"]}}
 }},
{"data": {"values": [{}]}, "mark": {"type": "rule", "color": "black", "strokeWidth": 1.8}, "encoding": {"y": {"datum": 0}}},
{"data": {"name": "curves"}, "transform": [{"filter": "datum.p == 'PP50'"}],
 "mark": {"type": "line", "color": "black", "strokeWidth": 1.5, "interpolate": "monotone"},
 "encoding": {
  "x": {"field": "x", "type": "quantitative"},
  "y": {"field": "y", "type": "quantitative"},
  "strokeDash": {"field": "m", "type": "nominal", "scale": {"domain": ["PROSA", "SERIA", "SERIA_lr"], "range": [[12, 3, 2, 3], [5, 3], [1, 0]]}},
  "detail": {"field": "c"}
 }}
]
},
{
"width": 244, "height": 445,
"title": {"text": "PP80"},
"layer": [
{"data": {"name": "hist"}, "transform": [{"filter": "datum.p == 'PP80'"}],
 "mark": {"type": "bar", "opacity": 0.29, "binSpacing": 0},
 "encoding": {
  "x": {"field": "x", "type": "quantitative", "bin": {"binned": true, "step": 10}, "scale": {"domain": [0, 800], "nice": false}, "axis": {"values": [0,200,400,600,800], "format": "d", "title": null}},
  "y": {"field": "y", "type": "quantitative", "stack": null, "scale": {"domain": [-1, 4], "nice": false}, "axis": {"values": [-1,0,1,2,3,4], "format": "d", "title": "1e\u22123"}},
  "fill": {"field": "r", "type": "nominal", "scale": {"domain": ["pro.", "anti."], "range": ["#ff0000", "#0000ff"]}}
 }},
{"data": {"values": [{}]}, "mark": {"type": "rule", "color": "black", "strokeWidth": 1.8}, "encoding": {"y": {"datum": 0}}},
{"data": {"name": "curves"}, "transform": [{"filter": "datum.p == 'PP80'"}],
 "mark": {"type": "line", "color": "black", "strokeWidth": 1.5, "interpolate": "monotone"},
 "encoding": {
  "x": {"field": "x", "type": "quantitative"},
  "y": {"field": "y", "type": "quantitative"},
  "strokeDash": {"field": "m", "type": "nominal", "scale": {"domain": ["PROSA", "SERIA", "SERIA_lr"], "range": [[12, 3, 2, 3], [5, 3], [1, 0]]}},
  "detail": {"field": "c"}
 }}
]
}
],
"resolve": {"scale": {"x": "independent", "y": "independent", "fill": "shared", "strokeDash": "shared"}, "legend": {"fill": "shared", "strokeDash": "shared"}},
"config": {
 "font": "DejaVu Sans",
 "view": {"fill": "#e5e5e5", "stroke": null},
 "axis": {"domain": false, "grid": false, "ticks": true, "tickColor": "black", "tickSize": 7, "tickWidth": 1.3, "labelFont": "DejaVu Sans", "labelFontSize": 20, "labelColor": "black", "labelFlush": false, "labelOverlap": false, "titleFont": "DejaVu Sans", "titleFontSize": 20, "titleFontWeight": "normal", "titleColor": "black"},
 "axisX": {"labelPadding": 8},
 "axisY": {"grid": true, "gridColor": "white", "gridWidth": 1.5, "labelPadding": 8, "titleAngle": 0, "titleAlign": "left", "titleBaseline": "alphabetic", "titleX": 1, "titleY": -6},
 "title": {"font": "DejaVu Sans", "fontSize": 24, "fontWeight": "bold", "color": "black", "anchor": "middle", "frame": "group", "baseline": "alphabetic", "offset": -13.5},
 "legend": {"labelFont": "DejaVu Sans", "labelFontSize": 20, "labelColor": "black", "labelOffset": 16, "symbolSize": 1600, "padding": 0, "rowPadding": 0}
}
}
